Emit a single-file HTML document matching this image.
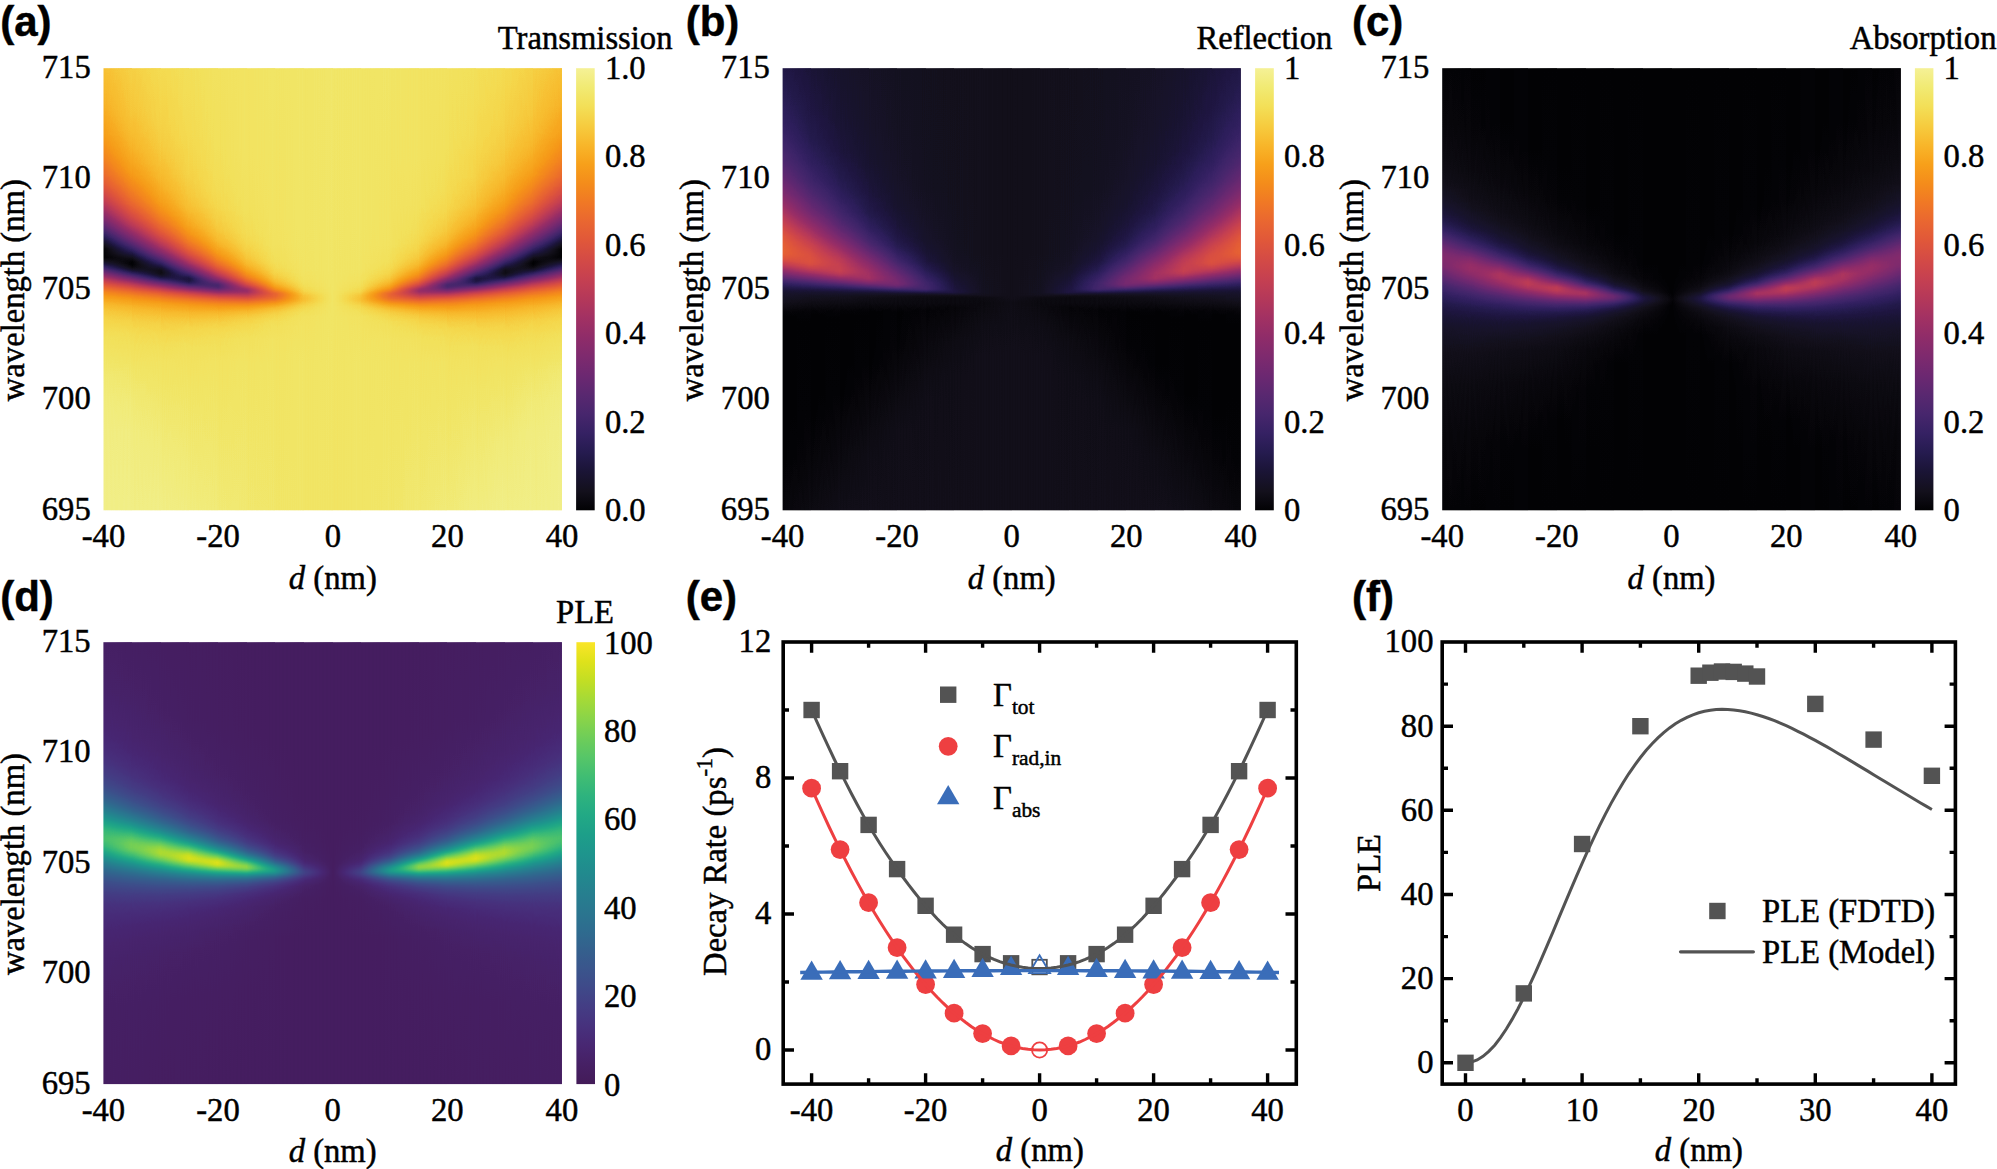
<!DOCTYPE html><html><head><meta charset="utf-8"><title>Figure</title><style>html,body{margin:0;padding:0;background:#fff}svg{display:block}text{font-family:"Liberation Serif",serif;font-size:32px;fill:#000;stroke:#000;stroke-width:.45px}.b{font-family:"Liberation Sans",sans-serif;font-weight:bold;font-size:42px}.i{font-style:italic}.s{font-size:21px}</style></head><body><svg width="1997" height="1169" viewBox="0 0 1997 1169"><defs><linearGradient id="hg" x1="0" y1="0" x2="1" y2="0"><stop offset="0" stop-color="#fff" stop-opacity="0"/><stop offset="1" stop-color="#fff" stop-opacity="1"/></linearGradient>
<mask id="hm" maskContentUnits="objectBoundingBox"><rect x="0" y="0" width="1" height="1" fill="url(#hg)"/></mask>
<filter id="inf" color-interpolation-filters="sRGB" x="0" y="0" width="1" height="1"><feComponentTransfer><feFuncR type="table" tableValues=".008 .044 .071 .089 .099 .119 .141 .173 .203 .239 .271 .305 .344 .377 .416 .446 .482 .512 .549 .579 .614 .654 .687 .726 .756 .789 .814 .844 .866 .885 .904 .918 .932 .941 .953 .96 .966 .968 .97 .971 .97 .965 .96 .952 .948 .946 .947 .961"/><feFuncG type="table" tableValues=".008 .037 .062 .075 .078 .086 .104 .117 .127 .141 .149 .151 .156 .156 .158 .16 .165 .167 .171 .175 .185 .199 .211 .227 .241 .261 .278 .303 .325 .349 .382 .41 .447 .479 .52 .555 .599 .636 .674 .721 .76 .807 .847 .88 .899 .921 .935 .945"/><feFuncB type="table" tableValues=".016 .06 .102 .153 .198 .255 .302 .353 .384 .41 .424 .433 .44 .443 .443 .44 .434 .427 .416 .406 .395 .379 .364 .344 .327 .305 .285 .261 .24 .222 .201 .184 .161 .142 .12 .105 .095 .108 .134 .17 .205 .255 .301 .352 .395 .466 .531 .588"/></feComponentTransfer></filter>
<filter id="vir" color-interpolation-filters="sRGB" x="0" y="0" width="1" height="1"><feComponentTransfer><feFuncR type="table" tableValues=".263 .269 .273 .278 .281 .282 .279 .273 .267 .258 .249 .24 .228 .218 .206 .197 .186 .177 .167 .16 .152 .143 .135 .127 .121 .116 .114 .118 .126 .14 .164 .19 .225 .259 .304 .344 .395 .44 .487 .546 .596 .657 .709 .772 .824 .884 .933 .98"/><feFuncG type="table" tableValues=".106 .112 .122 .137 .147 .166 .187 .213 .234 .259 .28 .302 .327 .348 .372 .392 .414 .433 .455 .474 .492 .514 .532 .554 .572 .594 .612 .634 .652 .669 .691 .708 .728 .744 .763 .778 .795 .808 .821 .834 .844 .855 .863 .872 .879 .886 .892 .898"/><feFuncB type="table" tableValues=".345 .367 .388 .418 .444 .47 .487 .504 .516 .526 .534 .541 .547 .551 .554 .556 .558 .56 .561 .561 .561 .56 .559 .557 .554 .549 .543 .535 .526 .515 .501 .486 .467 .448 .424 .401 .372 .345 .316 .279 .247 .207 .174 .137 .114 .109 .125 .157"/></feComponentTransfer></filter>
<linearGradient id="ha0" x1="0" y1="0" x2="0" y2="1"><stop offset="0" stop-color="#d9d9d9"/><stop offset=".0825" stop-color="#d1d1d1"/><stop offset=".1167" stop-color="#cccccc"/><stop offset=".1475" stop-color="#c7c7c7"/><stop offset=".1758" stop-color="#c0c0c0"/><stop offset=".2008" stop-color="#b9b9b9"/><stop offset=".2242" stop-color="#b0b0b0"/><stop offset=".245" stop-color="#a7a7a7"/><stop offset=".265" stop-color="#9c9c9c"/><stop offset=".2833" stop-color="#8f8f8f"/><stop offset=".3017" stop-color="#818181"/><stop offset=".3192" stop-color="#707070"/><stop offset=".3333" stop-color="#616161"/><stop offset=".3475" stop-color="#505050"/><stop offset=".3633" stop-color="#3c3c3c"/><stop offset=".3933" stop-color="#121212"/><stop offset=".4008" stop-color="#090909"/><stop offset=".4075" stop-color="#020202"/><stop offset=".41" stop-color="#000000"/><stop offset=".4267" stop-color="#000000"/><stop offset=".4292" stop-color="#020202"/><stop offset=".4342" stop-color="#0a0a0a"/><stop offset=".4383" stop-color="#121212"/><stop offset=".4433" stop-color="#1d1d1d"/><stop offset=".4517" stop-color="#333333"/><stop offset=".47" stop-color="#6a6a6a"/><stop offset=".4783" stop-color="#818181"/><stop offset=".4875" stop-color="#979797"/><stop offset=".4967" stop-color="#aaaaaa"/><stop offset=".5075" stop-color="#bcbcbc"/><stop offset=".5192" stop-color="#c9c9c9"/><stop offset=".5317" stop-color="#d3d3d3"/><stop offset=".5467" stop-color="#dcdcdc"/><stop offset=".5692" stop-color="#e3e3e3"/><stop offset=".6" stop-color="#e9e9e9"/><stop offset=".6417" stop-color="#eeeeee"/><stop offset=".6925" stop-color="#f3f3f3"/><stop offset=".7475" stop-color="#f6f6f6"/><stop offset=".8117" stop-color="#f8f8f8"/><stop offset="1" stop-color="#fafafa"/></linearGradient><linearGradient id="ha1" x1="0" y1="0" x2="0" y2="1"><stop offset="0" stop-color="#e0e0e0"/><stop offset=".1042" stop-color="#dbdbdb"/><stop offset=".145" stop-color="#d7d7d7"/><stop offset=".1808" stop-color="#d2d2d2"/><stop offset=".2125" stop-color="#cccccc"/><stop offset=".24" stop-color="#c5c5c5"/><stop offset=".2642" stop-color="#bcbcbc"/><stop offset=".2867" stop-color="#b2b2b2"/><stop offset=".3058" stop-color="#a8a8a8"/><stop offset=".3233" stop-color="#9b9b9b"/><stop offset=".34" stop-color="#8d8d8d"/><stop offset=".3558" stop-color="#7c7c7c"/><stop offset=".3708" stop-color="#696969"/><stop offset=".3858" stop-color="#545454"/><stop offset=".3975" stop-color="#414141"/><stop offset=".4208" stop-color="#191919"/><stop offset=".4292" stop-color="#0b0b0b"/><stop offset=".4367" stop-color="#020202"/><stop offset=".44" stop-color="#000000"/><stop offset=".4425" stop-color="#000000"/><stop offset=".4458" stop-color="#020202"/><stop offset=".45" stop-color="#060606"/><stop offset=".4542" stop-color="#0e0e0e"/><stop offset=".4583" stop-color="#181818"/><stop offset=".4658" stop-color="#2f2f2f"/><stop offset=".4825" stop-color="#6a6a6a"/><stop offset=".49" stop-color="#838383"/><stop offset=".4983" stop-color="#9a9a9a"/><stop offset=".5058" stop-color="#ababab"/><stop offset=".515" stop-color="#bbbbbb"/><stop offset=".525" stop-color="#c7c7c7"/><stop offset=".5367" stop-color="#d1d1d1"/><stop offset=".5508" stop-color="#d9d9d9"/><stop offset=".5725" stop-color="#e1e1e1"/><stop offset=".6017" stop-color="#e7e7e7"/><stop offset=".6383" stop-color="#ebebeb"/><stop offset=".6875" stop-color="#f0f0f0"/><stop offset=".7542" stop-color="#f4f4f4"/><stop offset=".825" stop-color="#f7f7f7"/><stop offset="1" stop-color="#f9f9f9"/></linearGradient><linearGradient id="ha2" x1="0" y1="0" x2="0" y2="1"><stop offset="0" stop-color="#e6e6e6"/><stop offset=".1267" stop-color="#e1e1e1"/><stop offset=".1742" stop-color="#dedede"/><stop offset=".2133" stop-color="#dadada"/><stop offset=".2467" stop-color="#d5d5d5"/><stop offset=".2758" stop-color="#cfcfcf"/><stop offset=".3008" stop-color="#c8c8c8"/><stop offset=".3233" stop-color="#bfbfbf"/><stop offset=".3425" stop-color="#b4b4b4"/><stop offset=".36" stop-color="#a7a7a7"/><stop offset=".3758" stop-color="#989898"/><stop offset=".3908" stop-color="#868686"/><stop offset=".4042" stop-color="#737373"/><stop offset=".4175" stop-color="#5c5c5c"/><stop offset=".4283" stop-color="#464646"/><stop offset=".4467" stop-color="#1e1e1e"/><stop offset=".4533" stop-color="#101010"/><stop offset=".4575" stop-color="#0a0a0a"/><stop offset=".4617" stop-color="#080808"/><stop offset=".4642" stop-color="#090909"/><stop offset=".4675" stop-color="#0d0d0d"/><stop offset=".47" stop-color="#121212"/><stop offset=".4733" stop-color="#1b1b1b"/><stop offset=".4767" stop-color="#262626"/><stop offset=".48" stop-color="#333333"/><stop offset=".4933" stop-color="#6b6b6b"/><stop offset=".5" stop-color="#848484"/><stop offset=".5067" stop-color="#9a9a9a"/><stop offset=".51" stop-color="#a3a3a3"/><stop offset=".5142" stop-color="#acacac"/><stop offset=".5183" stop-color="#b4b4b4"/><stop offset=".5225" stop-color="#bbbbbb"/><stop offset=".5325" stop-color="#c8c8c8"/><stop offset=".5442" stop-color="#d1d1d1"/><stop offset=".5583" stop-color="#d9d9d9"/><stop offset=".5775" stop-color="#e0e0e0"/><stop offset=".6" stop-color="#e5e5e5"/><stop offset=".6283" stop-color="#e9e9e9"/><stop offset=".665" stop-color="#ededed"/><stop offset=".8483" stop-color="#f5f5f5"/><stop offset="1" stop-color="#f9f9f9"/></linearGradient><linearGradient id="ha3" x1="0" y1="0" x2="0" y2="1"><stop offset="0" stop-color="#e9e9e9"/><stop offset=".15" stop-color="#e6e6e6"/><stop offset=".2458" stop-color="#e1e1e1"/><stop offset=".2817" stop-color="#dddddd"/><stop offset=".3108" stop-color="#d9d9d9"/><stop offset=".3358" stop-color="#d2d2d2"/><stop offset=".3567" stop-color="#cbcbcb"/><stop offset=".3758" stop-color="#c1c1c1"/><stop offset=".3925" stop-color="#b5b5b5"/><stop offset=".4075" stop-color="#a6a6a6"/><stop offset=".4208" stop-color="#959595"/><stop offset=".4317" stop-color="#838383"/><stop offset=".4425" stop-color="#6e6e6e"/><stop offset=".4533" stop-color="#545454"/><stop offset=".4725" stop-color="#202020"/><stop offset=".4758" stop-color="#1a1a1a"/><stop offset=".4783" stop-color="#191919"/><stop offset=".48" stop-color="#1a1a1a"/><stop offset=".4825" stop-color="#1d1d1d"/><stop offset=".4842" stop-color="#202020"/><stop offset=".4867" stop-color="#282828"/><stop offset=".4892" stop-color="#313131"/><stop offset=".4917" stop-color="#3b3b3b"/><stop offset=".5025" stop-color="#6e6e6e"/><stop offset=".5083" stop-color="#878787"/><stop offset=".5117" stop-color="#939393"/><stop offset=".515" stop-color="#9d9d9d"/><stop offset=".5217" stop-color="#aeaeae"/><stop offset=".5258" stop-color="#b6b6b6"/><stop offset=".53" stop-color="#bdbdbd"/><stop offset=".535" stop-color="#c4c4c4"/><stop offset=".5408" stop-color="#cacaca"/><stop offset=".5533" stop-color="#d4d4d4"/><stop offset=".5683" stop-color="#dcdcdc"/><stop offset=".585" stop-color="#e2e2e2"/><stop offset=".605" stop-color="#e6e6e6"/><stop offset=".63" stop-color="#eaeaea"/><stop offset=".6617" stop-color="#ececec"/><stop offset=".725" stop-color="#efefef"/><stop offset="1" stop-color="#f7f7f7"/></linearGradient><linearGradient id="ha4" x1="0" y1="0" x2="0" y2="1"><stop offset="0" stop-color="#ececec"/><stop offset=".175" stop-color="#eaeaea"/><stop offset=".2775" stop-color="#e7e7e7"/><stop offset=".3142" stop-color="#e4e4e4"/><stop offset=".3433" stop-color="#e0e0e0"/><stop offset=".3675" stop-color="#dcdcdc"/><stop offset=".3875" stop-color="#d6d6d6"/><stop offset=".405" stop-color="#cecece"/><stop offset=".42" stop-color="#c4c4c4"/><stop offset=".4333" stop-color="#b8b8b8"/><stop offset=".4458" stop-color="#a8a8a8"/><stop offset=".455" stop-color="#989898"/><stop offset=".4642" stop-color="#848484"/><stop offset=".4692" stop-color="#787878"/><stop offset=".4742" stop-color="#6a6a6a"/><stop offset=".4875" stop-color="#3e3e3e"/><stop offset=".49" stop-color="#393939"/><stop offset=".4925" stop-color="#383838"/><stop offset=".495" stop-color="#3a3a3a"/><stop offset=".4967" stop-color="#3e3e3e"/><stop offset=".4983" stop-color="#434343"/><stop offset=".5017" stop-color="#505050"/><stop offset=".5117" stop-color="#7d7d7d"/><stop offset=".5158" stop-color="#8d8d8d"/><stop offset=".5192" stop-color="#999999"/><stop offset=".5225" stop-color="#a3a3a3"/><stop offset=".5258" stop-color="#ababab"/><stop offset=".53" stop-color="#b5b5b5"/><stop offset=".5342" stop-color="#bdbdbd"/><stop offset=".5392" stop-color="#c4c4c4"/><stop offset=".5492" stop-color="#d0d0d0"/><stop offset=".5608" stop-color="#d9d9d9"/><stop offset=".5758" stop-color="#e0e0e0"/><stop offset=".5917" stop-color="#e5e5e5"/><stop offset=".6108" stop-color="#e8e8e8"/><stop offset=".665" stop-color="#ededed"/><stop offset="1" stop-color="#f4f4f4"/></linearGradient><linearGradient id="ha5" x1="0" y1="0" x2="0" y2="1"><stop offset="0" stop-color="#ededed"/><stop offset=".2" stop-color="#ededed"/><stop offset=".3083" stop-color="#ebebeb"/><stop offset=".3733" stop-color="#e7e7e7"/><stop offset=".3958" stop-color="#e4e4e4"/><stop offset=".4142" stop-color="#e0e0e0"/><stop offset=".4308" stop-color="#dbdbdb"/><stop offset=".4442" stop-color="#d4d4d4"/><stop offset=".4558" stop-color="#cbcbcb"/><stop offset=".4667" stop-color="#bfbfbf"/><stop offset=".4742" stop-color="#b4b4b4"/><stop offset=".4817" stop-color="#a5a5a5"/><stop offset=".4858" stop-color="#9a9a9a"/><stop offset=".4892" stop-color="#919191"/><stop offset=".4992" stop-color="#6f6f6f"/><stop offset=".5008" stop-color="#6c6c6c"/><stop offset=".5033" stop-color="#6a6a6a"/><stop offset=".5058" stop-color="#6c6c6c"/><stop offset=".5083" stop-color="#717171"/><stop offset=".5233" stop-color="#9f9f9f"/><stop offset=".5283" stop-color="#aeaeae"/><stop offset=".5342" stop-color="#bcbcbc"/><stop offset=".5408" stop-color="#c8c8c8"/><stop offset=".5483" stop-color="#d2d2d2"/><stop offset=".5575" stop-color="#dbdbdb"/><stop offset=".5683" stop-color="#e1e1e1"/><stop offset=".5808" stop-color="#e5e5e5"/><stop offset=".5958" stop-color="#e8e8e8"/><stop offset=".6142" stop-color="#ebebeb"/><stop offset=".6683" stop-color="#eeeeee"/><stop offset="1" stop-color="#f2f2f2"/></linearGradient><linearGradient id="ha6" x1="0" y1="0" x2="0" y2="1"><stop offset="0" stop-color="#efefef"/><stop offset=".335" stop-color="#ededed"/><stop offset=".3983" stop-color="#ececec"/><stop offset=".4367" stop-color="#e9e9e9"/><stop offset=".4517" stop-color="#e6e6e6"/><stop offset=".4633" stop-color="#e2e2e2"/><stop offset=".4733" stop-color="#dddddd"/><stop offset=".4817" stop-color="#d7d7d7"/><stop offset=".4883" stop-color="#d0d0d0"/><stop offset=".4942" stop-color="#c8c8c8"/><stop offset=".5" stop-color="#bdbdbd"/><stop offset=".5083" stop-color="#a8a8a8"/><stop offset=".51" stop-color="#a6a6a6"/><stop offset=".5125" stop-color="#a5a5a5"/><stop offset=".5167" stop-color="#a7a7a7"/><stop offset=".5208" stop-color="#acacac"/><stop offset=".5242" stop-color="#b2b2b2"/><stop offset=".5325" stop-color="#c4c4c4"/><stop offset=".5367" stop-color="#cccccc"/><stop offset=".5417" stop-color="#d4d4d4"/><stop offset=".5475" stop-color="#dbdbdb"/><stop offset=".5542" stop-color="#e0e0e0"/><stop offset=".5625" stop-color="#e4e4e4"/><stop offset=".5725" stop-color="#e8e8e8"/><stop offset=".5842" stop-color="#eaeaea"/><stop offset=".6167" stop-color="#ededed"/><stop offset=".6708" stop-color="#eeeeee"/><stop offset="1" stop-color="#f0f0f0"/></linearGradient><linearGradient id="ha7" x1="0" y1="0" x2="0" y2="1"><stop offset="0" stop-color="#efefef"/><stop offset=".3583" stop-color="#efefef"/><stop offset=".4542" stop-color="#eeeeee"/><stop offset=".4775" stop-color="#ececec"/><stop offset=".4933" stop-color="#e8e8e8"/><stop offset=".5042" stop-color="#e3e3e3"/><stop offset=".5142" stop-color="#dadada"/><stop offset=".5208" stop-color="#d8d8d8"/><stop offset=".5258" stop-color="#d9d9d9"/><stop offset=".5383" stop-color="#e3e3e3"/><stop offset=".5483" stop-color="#e8e8e8"/><stop offset=".5625" stop-color="#ececec"/><stop offset=".5833" stop-color="#ededed"/><stop offset=".6675" stop-color="#efefef"/><stop offset="1" stop-color="#efefef"/></linearGradient><linearGradient id="ha8" x1="0" y1="0" x2="0" y2="1"><stop offset="0" stop-color="#f0f0f0"/><stop offset="1" stop-color="#eeeeee"/></linearGradient><linearGradient id="ha9" x1="0" y1="0" x2="0" y2="1"><stop offset="0" stop-color="#efefef"/><stop offset=".3583" stop-color="#efefef"/><stop offset=".4542" stop-color="#eeeeee"/><stop offset=".4775" stop-color="#ececec"/><stop offset=".4933" stop-color="#e8e8e8"/><stop offset=".5042" stop-color="#e3e3e3"/><stop offset=".5142" stop-color="#dadada"/><stop offset=".5208" stop-color="#d8d8d8"/><stop offset=".5258" stop-color="#d9d9d9"/><stop offset=".5383" stop-color="#e3e3e3"/><stop offset=".5483" stop-color="#e8e8e8"/><stop offset=".5625" stop-color="#ececec"/><stop offset=".5833" stop-color="#ededed"/><stop offset=".6675" stop-color="#efefef"/><stop offset="1" stop-color="#efefef"/></linearGradient><linearGradient id="ha10" x1="0" y1="0" x2="0" y2="1"><stop offset="0" stop-color="#efefef"/><stop offset=".335" stop-color="#ededed"/><stop offset=".3983" stop-color="#ececec"/><stop offset=".4367" stop-color="#e9e9e9"/><stop offset=".4517" stop-color="#e6e6e6"/><stop offset=".4633" stop-color="#e2e2e2"/><stop offset=".4733" stop-color="#dddddd"/><stop offset=".4817" stop-color="#d7d7d7"/><stop offset=".4883" stop-color="#d0d0d0"/><stop offset=".4942" stop-color="#c8c8c8"/><stop offset=".5" stop-color="#bdbdbd"/><stop offset=".5083" stop-color="#a8a8a8"/><stop offset=".51" stop-color="#a6a6a6"/><stop offset=".5125" stop-color="#a5a5a5"/><stop offset=".5167" stop-color="#a7a7a7"/><stop offset=".5208" stop-color="#acacac"/><stop offset=".5242" stop-color="#b2b2b2"/><stop offset=".5325" stop-color="#c4c4c4"/><stop offset=".5367" stop-color="#cccccc"/><stop offset=".5417" stop-color="#d4d4d4"/><stop offset=".5475" stop-color="#dbdbdb"/><stop offset=".5542" stop-color="#e0e0e0"/><stop offset=".5625" stop-color="#e4e4e4"/><stop offset=".5725" stop-color="#e8e8e8"/><stop offset=".5842" stop-color="#eaeaea"/><stop offset=".6167" stop-color="#ededed"/><stop offset=".6708" stop-color="#eeeeee"/><stop offset="1" stop-color="#f0f0f0"/></linearGradient><linearGradient id="ha11" x1="0" y1="0" x2="0" y2="1"><stop offset="0" stop-color="#ededed"/><stop offset=".2" stop-color="#ededed"/><stop offset=".3083" stop-color="#ebebeb"/><stop offset=".3733" stop-color="#e7e7e7"/><stop offset=".3958" stop-color="#e4e4e4"/><stop offset=".4142" stop-color="#e0e0e0"/><stop offset=".4308" stop-color="#dbdbdb"/><stop offset=".4442" stop-color="#d4d4d4"/><stop offset=".4558" stop-color="#cbcbcb"/><stop offset=".4667" stop-color="#bfbfbf"/><stop offset=".4742" stop-color="#b4b4b4"/><stop offset=".4817" stop-color="#a5a5a5"/><stop offset=".4858" stop-color="#9a9a9a"/><stop offset=".4892" stop-color="#919191"/><stop offset=".4992" stop-color="#6f6f6f"/><stop offset=".5008" stop-color="#6c6c6c"/><stop offset=".5033" stop-color="#6a6a6a"/><stop offset=".5058" stop-color="#6c6c6c"/><stop offset=".5083" stop-color="#717171"/><stop offset=".5233" stop-color="#9f9f9f"/><stop offset=".5283" stop-color="#aeaeae"/><stop offset=".5342" stop-color="#bcbcbc"/><stop offset=".5408" stop-color="#c8c8c8"/><stop offset=".5483" stop-color="#d2d2d2"/><stop offset=".5575" stop-color="#dbdbdb"/><stop offset=".5683" stop-color="#e1e1e1"/><stop offset=".5808" stop-color="#e5e5e5"/><stop offset=".5958" stop-color="#e8e8e8"/><stop offset=".6142" stop-color="#ebebeb"/><stop offset=".6683" stop-color="#eeeeee"/><stop offset="1" stop-color="#f2f2f2"/></linearGradient><linearGradient id="ha12" x1="0" y1="0" x2="0" y2="1"><stop offset="0" stop-color="#ececec"/><stop offset=".175" stop-color="#eaeaea"/><stop offset=".2775" stop-color="#e7e7e7"/><stop offset=".3142" stop-color="#e4e4e4"/><stop offset=".3433" stop-color="#e0e0e0"/><stop offset=".3675" stop-color="#dcdcdc"/><stop offset=".3875" stop-color="#d6d6d6"/><stop offset=".405" stop-color="#cecece"/><stop offset=".42" stop-color="#c4c4c4"/><stop offset=".4333" stop-color="#b8b8b8"/><stop offset=".4458" stop-color="#a8a8a8"/><stop offset=".455" stop-color="#989898"/><stop offset=".4642" stop-color="#848484"/><stop offset=".4692" stop-color="#787878"/><stop offset=".4742" stop-color="#6a6a6a"/><stop offset=".4875" stop-color="#3e3e3e"/><stop offset=".49" stop-color="#393939"/><stop offset=".4925" stop-color="#383838"/><stop offset=".495" stop-color="#3a3a3a"/><stop offset=".4967" stop-color="#3e3e3e"/><stop offset=".4983" stop-color="#434343"/><stop offset=".5017" stop-color="#505050"/><stop offset=".5117" stop-color="#7d7d7d"/><stop offset=".5158" stop-color="#8d8d8d"/><stop offset=".5192" stop-color="#999999"/><stop offset=".5225" stop-color="#a3a3a3"/><stop offset=".5258" stop-color="#ababab"/><stop offset=".53" stop-color="#b5b5b5"/><stop offset=".5342" stop-color="#bdbdbd"/><stop offset=".5392" stop-color="#c4c4c4"/><stop offset=".5492" stop-color="#d0d0d0"/><stop offset=".5608" stop-color="#d9d9d9"/><stop offset=".5758" stop-color="#e0e0e0"/><stop offset=".5917" stop-color="#e5e5e5"/><stop offset=".6108" stop-color="#e8e8e8"/><stop offset=".665" stop-color="#ededed"/><stop offset="1" stop-color="#f4f4f4"/></linearGradient><linearGradient id="ha13" x1="0" y1="0" x2="0" y2="1"><stop offset="0" stop-color="#e9e9e9"/><stop offset=".15" stop-color="#e6e6e6"/><stop offset=".2458" stop-color="#e1e1e1"/><stop offset=".2817" stop-color="#dddddd"/><stop offset=".3108" stop-color="#d9d9d9"/><stop offset=".3358" stop-color="#d2d2d2"/><stop offset=".3567" stop-color="#cbcbcb"/><stop offset=".3758" stop-color="#c1c1c1"/><stop offset=".3925" stop-color="#b5b5b5"/><stop offset=".4075" stop-color="#a6a6a6"/><stop offset=".4208" stop-color="#959595"/><stop offset=".4317" stop-color="#838383"/><stop offset=".4425" stop-color="#6e6e6e"/><stop offset=".4533" stop-color="#545454"/><stop offset=".4725" stop-color="#202020"/><stop offset=".4758" stop-color="#1a1a1a"/><stop offset=".4783" stop-color="#191919"/><stop offset=".48" stop-color="#1a1a1a"/><stop offset=".4825" stop-color="#1d1d1d"/><stop offset=".4842" stop-color="#202020"/><stop offset=".4867" stop-color="#282828"/><stop offset=".4892" stop-color="#313131"/><stop offset=".4917" stop-color="#3b3b3b"/><stop offset=".5025" stop-color="#6e6e6e"/><stop offset=".5083" stop-color="#878787"/><stop offset=".5117" stop-color="#939393"/><stop offset=".515" stop-color="#9d9d9d"/><stop offset=".5217" stop-color="#aeaeae"/><stop offset=".5258" stop-color="#b6b6b6"/><stop offset=".53" stop-color="#bdbdbd"/><stop offset=".535" stop-color="#c4c4c4"/><stop offset=".5408" stop-color="#cacaca"/><stop offset=".5533" stop-color="#d4d4d4"/><stop offset=".5683" stop-color="#dcdcdc"/><stop offset=".585" stop-color="#e2e2e2"/><stop offset=".605" stop-color="#e6e6e6"/><stop offset=".63" stop-color="#eaeaea"/><stop offset=".6617" stop-color="#ececec"/><stop offset=".725" stop-color="#efefef"/><stop offset="1" stop-color="#f7f7f7"/></linearGradient><linearGradient id="ha14" x1="0" y1="0" x2="0" y2="1"><stop offset="0" stop-color="#e6e6e6"/><stop offset=".1267" stop-color="#e1e1e1"/><stop offset=".1742" stop-color="#dedede"/><stop offset=".2133" stop-color="#dadada"/><stop offset=".2467" stop-color="#d5d5d5"/><stop offset=".2758" stop-color="#cfcfcf"/><stop offset=".3008" stop-color="#c8c8c8"/><stop offset=".3233" stop-color="#bfbfbf"/><stop offset=".3425" stop-color="#b4b4b4"/><stop offset=".36" stop-color="#a7a7a7"/><stop offset=".3758" stop-color="#989898"/><stop offset=".3908" stop-color="#868686"/><stop offset=".4042" stop-color="#737373"/><stop offset=".4175" stop-color="#5c5c5c"/><stop offset=".4283" stop-color="#464646"/><stop offset=".4467" stop-color="#1e1e1e"/><stop offset=".4533" stop-color="#101010"/><stop offset=".4575" stop-color="#0a0a0a"/><stop offset=".4617" stop-color="#080808"/><stop offset=".4642" stop-color="#090909"/><stop offset=".4675" stop-color="#0d0d0d"/><stop offset=".47" stop-color="#121212"/><stop offset=".4733" stop-color="#1b1b1b"/><stop offset=".4767" stop-color="#262626"/><stop offset=".48" stop-color="#333333"/><stop offset=".4933" stop-color="#6b6b6b"/><stop offset=".5" stop-color="#848484"/><stop offset=".5067" stop-color="#9a9a9a"/><stop offset=".51" stop-color="#a3a3a3"/><stop offset=".5142" stop-color="#acacac"/><stop offset=".5183" stop-color="#b4b4b4"/><stop offset=".5225" stop-color="#bbbbbb"/><stop offset=".5325" stop-color="#c8c8c8"/><stop offset=".5442" stop-color="#d1d1d1"/><stop offset=".5583" stop-color="#d9d9d9"/><stop offset=".5775" stop-color="#e0e0e0"/><stop offset=".6" stop-color="#e5e5e5"/><stop offset=".6283" stop-color="#e9e9e9"/><stop offset=".665" stop-color="#ededed"/><stop offset=".8483" stop-color="#f5f5f5"/><stop offset="1" stop-color="#f9f9f9"/></linearGradient><linearGradient id="ha15" x1="0" y1="0" x2="0" y2="1"><stop offset="0" stop-color="#e0e0e0"/><stop offset=".1042" stop-color="#dbdbdb"/><stop offset=".145" stop-color="#d7d7d7"/><stop offset=".1808" stop-color="#d2d2d2"/><stop offset=".2125" stop-color="#cccccc"/><stop offset=".24" stop-color="#c5c5c5"/><stop offset=".2642" stop-color="#bcbcbc"/><stop offset=".2867" stop-color="#b2b2b2"/><stop offset=".3058" stop-color="#a8a8a8"/><stop offset=".3233" stop-color="#9b9b9b"/><stop offset=".34" stop-color="#8d8d8d"/><stop offset=".3558" stop-color="#7c7c7c"/><stop offset=".3708" stop-color="#696969"/><stop offset=".3858" stop-color="#545454"/><stop offset=".3975" stop-color="#414141"/><stop offset=".4208" stop-color="#191919"/><stop offset=".4292" stop-color="#0b0b0b"/><stop offset=".4367" stop-color="#020202"/><stop offset=".44" stop-color="#000000"/><stop offset=".4425" stop-color="#000000"/><stop offset=".4458" stop-color="#020202"/><stop offset=".45" stop-color="#060606"/><stop offset=".4542" stop-color="#0e0e0e"/><stop offset=".4583" stop-color="#181818"/><stop offset=".4658" stop-color="#2f2f2f"/><stop offset=".4825" stop-color="#6a6a6a"/><stop offset=".49" stop-color="#838383"/><stop offset=".4983" stop-color="#9a9a9a"/><stop offset=".5058" stop-color="#ababab"/><stop offset=".515" stop-color="#bbbbbb"/><stop offset=".525" stop-color="#c7c7c7"/><stop offset=".5367" stop-color="#d1d1d1"/><stop offset=".5508" stop-color="#d9d9d9"/><stop offset=".5725" stop-color="#e1e1e1"/><stop offset=".6017" stop-color="#e7e7e7"/><stop offset=".6383" stop-color="#ebebeb"/><stop offset=".6875" stop-color="#f0f0f0"/><stop offset=".7542" stop-color="#f4f4f4"/><stop offset=".825" stop-color="#f7f7f7"/><stop offset="1" stop-color="#f9f9f9"/></linearGradient><linearGradient id="ha16" x1="0" y1="0" x2="0" y2="1"><stop offset="0" stop-color="#d9d9d9"/><stop offset=".0825" stop-color="#d1d1d1"/><stop offset=".1167" stop-color="#cccccc"/><stop offset=".1475" stop-color="#c7c7c7"/><stop offset=".1758" stop-color="#c0c0c0"/><stop offset=".2008" stop-color="#b9b9b9"/><stop offset=".2242" stop-color="#b0b0b0"/><stop offset=".245" stop-color="#a7a7a7"/><stop offset=".265" stop-color="#9c9c9c"/><stop offset=".2833" stop-color="#8f8f8f"/><stop offset=".3017" stop-color="#818181"/><stop offset=".3192" stop-color="#707070"/><stop offset=".3333" stop-color="#616161"/><stop offset=".3475" stop-color="#505050"/><stop offset=".3633" stop-color="#3c3c3c"/><stop offset=".3933" stop-color="#121212"/><stop offset=".4008" stop-color="#090909"/><stop offset=".4075" stop-color="#020202"/><stop offset=".41" stop-color="#000000"/><stop offset=".4267" stop-color="#000000"/><stop offset=".4292" stop-color="#020202"/><stop offset=".4342" stop-color="#0a0a0a"/><stop offset=".4383" stop-color="#121212"/><stop offset=".4433" stop-color="#1d1d1d"/><stop offset=".4517" stop-color="#333333"/><stop offset=".47" stop-color="#6a6a6a"/><stop offset=".4783" stop-color="#818181"/><stop offset=".4875" stop-color="#979797"/><stop offset=".4967" stop-color="#aaaaaa"/><stop offset=".5075" stop-color="#bcbcbc"/><stop offset=".5192" stop-color="#c9c9c9"/><stop offset=".5317" stop-color="#d3d3d3"/><stop offset=".5467" stop-color="#dcdcdc"/><stop offset=".5692" stop-color="#e3e3e3"/><stop offset=".6" stop-color="#e9e9e9"/><stop offset=".6417" stop-color="#eeeeee"/><stop offset=".6925" stop-color="#f3f3f3"/><stop offset=".7475" stop-color="#f6f6f6"/><stop offset=".8117" stop-color="#f8f8f8"/><stop offset="1" stop-color="#fafafa"/></linearGradient>
<linearGradient id="hb0" x1="0" y1="0" x2="0" y2="1"><stop offset="0" stop-color="#1e1e1e"/><stop offset=".07" stop-color="#242424"/><stop offset=".1283" stop-color="#2b2b2b"/><stop offset=".1775" stop-color="#343434"/><stop offset=".2192" stop-color="#3f3f3f"/><stop offset=".2533" stop-color="#4c4c4c"/><stop offset=".2858" stop-color="#5c5c5c"/><stop offset=".3133" stop-color="#6e6e6e"/><stop offset=".3617" stop-color="#909090"/><stop offset=".3792" stop-color="#9b9b9b"/><stop offset=".3967" stop-color="#a2a2a2"/><stop offset=".4133" stop-color="#a4a4a4"/><stop offset=".4192" stop-color="#a3a3a3"/><stop offset=".425" stop-color="#9f9f9f"/><stop offset=".4308" stop-color="#999999"/><stop offset=".4367" stop-color="#909090"/><stop offset=".4475" stop-color="#7c7c7c"/><stop offset=".4692" stop-color="#4d4d4d"/><stop offset=".4783" stop-color="#3a3a3a"/><stop offset=".4875" stop-color="#2a2a2a"/><stop offset=".4967" stop-color="#1e1e1e"/><stop offset=".5042" stop-color="#161616"/><stop offset=".5108" stop-color="#121212"/><stop offset=".5292" stop-color="#0c0c0c"/><stop offset=".55" stop-color="#030303"/><stop offset=".5608" stop-color="#010101"/><stop offset=".58" stop-color="#000000"/><stop offset=".7458" stop-color="#000000"/><stop offset=".8908" stop-color="#010101"/><stop offset="1" stop-color="#040404"/></linearGradient><linearGradient id="hb1" x1="0" y1="0" x2="0" y2="1"><stop offset="0" stop-color="#181818"/><stop offset=".0883" stop-color="#1c1c1c"/><stop offset=".1575" stop-color="#212121"/><stop offset=".2117" stop-color="#292929"/><stop offset=".2567" stop-color="#333333"/><stop offset=".2875" stop-color="#3e3e3e"/><stop offset=".3158" stop-color="#4b4b4b"/><stop offset=".3308" stop-color="#545454"/><stop offset=".3458" stop-color="#5f5f5f"/><stop offset=".3908" stop-color="#828282"/><stop offset=".405" stop-color="#8c8c8c"/><stop offset=".4208" stop-color="#949494"/><stop offset=".4283" stop-color="#969696"/><stop offset=".4358" stop-color="#979797"/><stop offset=".44" stop-color="#969696"/><stop offset=".445" stop-color="#929292"/><stop offset=".4492" stop-color="#8c8c8c"/><stop offset=".4542" stop-color="#848484"/><stop offset=".4625" stop-color="#727272"/><stop offset=".4792" stop-color="#474747"/><stop offset=".4867" stop-color="#353535"/><stop offset=".4942" stop-color="#262626"/><stop offset=".5017" stop-color="#1a1a1a"/><stop offset=".5075" stop-color="#141414"/><stop offset=".5142" stop-color="#0f0f0f"/><stop offset=".5492" stop-color="#020202"/><stop offset=".5592" stop-color="#010101"/><stop offset=".5758" stop-color="#000000"/><stop offset=".7825" stop-color="#010101"/><stop offset=".8775" stop-color="#030303"/><stop offset="1" stop-color="#070707"/></linearGradient><linearGradient id="hb2" x1="0" y1="0" x2="0" y2="1"><stop offset="0" stop-color="#131313"/><stop offset=".1083" stop-color="#161616"/><stop offset=".1875" stop-color="#1a1a1a"/><stop offset=".2467" stop-color="#212121"/><stop offset=".2717" stop-color="#252525"/><stop offset=".2933" stop-color="#2a2a2a"/><stop offset=".3258" stop-color="#343434"/><stop offset=".34" stop-color="#3a3a3a"/><stop offset=".3542" stop-color="#414141"/><stop offset=".3683" stop-color="#4a4a4a"/><stop offset=".3817" stop-color="#545454"/><stop offset=".4192" stop-color="#757575"/><stop offset=".4308" stop-color="#7e7e7e"/><stop offset=".4433" stop-color="#848484"/><stop offset=".455" stop-color="#868686"/><stop offset=".4583" stop-color="#868686"/><stop offset=".4617" stop-color="#838383"/><stop offset=".465" stop-color="#7f7f7f"/><stop offset=".4692" stop-color="#767676"/><stop offset=".4758" stop-color="#656565"/><stop offset=".4883" stop-color="#3f3f3f"/><stop offset=".4942" stop-color="#2e2e2e"/><stop offset=".5" stop-color="#212121"/><stop offset=".5058" stop-color="#171717"/><stop offset=".5108" stop-color="#111111"/><stop offset=".5167" stop-color="#0d0d0d"/><stop offset=".5492" stop-color="#020202"/><stop offset=".5675" stop-color="#000000"/><stop offset=".7375" stop-color="#010101"/><stop offset="1" stop-color="#0a0a0a"/></linearGradient><linearGradient id="hb3" x1="0" y1="0" x2="0" y2="1"><stop offset="0" stop-color="#101010"/><stop offset=".1292" stop-color="#121212"/><stop offset=".2175" stop-color="#151515"/><stop offset=".2808" stop-color="#1a1a1a"/><stop offset=".3275" stop-color="#202020"/><stop offset=".36" stop-color="#292929"/><stop offset=".3742" stop-color="#2f2f2f"/><stop offset=".3875" stop-color="#353535"/><stop offset=".4" stop-color="#3d3d3d"/><stop offset=".4117" stop-color="#464646"/><stop offset=".4433" stop-color="#626262"/><stop offset=".4525" stop-color="#696969"/><stop offset=".4625" stop-color="#6f6f6f"/><stop offset=".4717" stop-color="#707070"/><stop offset=".4742" stop-color="#707070"/><stop offset=".4767" stop-color="#6e6e6e"/><stop offset=".4792" stop-color="#6a6a6a"/><stop offset=".4817" stop-color="#646464"/><stop offset=".4867" stop-color="#565656"/><stop offset=".4967" stop-color="#333333"/><stop offset=".5008" stop-color="#262626"/><stop offset=".5058" stop-color="#191919"/><stop offset=".51" stop-color="#121212"/><stop offset=".5142" stop-color="#0d0d0d"/><stop offset=".5192" stop-color="#0a0a0a"/><stop offset=".55" stop-color="#010101"/><stop offset=".5608" stop-color="#000000"/><stop offset=".67" stop-color="#010101"/><stop offset=".875" stop-color="#090909"/><stop offset="1" stop-color="#0b0b0b"/></linearGradient><linearGradient id="hb4" x1="0" y1="0" x2="0" y2="1"><stop offset="0" stop-color="#0e0e0e"/><stop offset=".1508" stop-color="#0f0f0f"/><stop offset=".2467" stop-color="#111111"/><stop offset=".3117" stop-color="#141414"/><stop offset=".3575" stop-color="#191919"/><stop offset=".39" stop-color="#1f1f1f"/><stop offset=".4033" stop-color="#232323"/><stop offset=".4158" stop-color="#292929"/><stop offset=".4367" stop-color="#353535"/><stop offset=".4708" stop-color="#505050"/><stop offset=".4783" stop-color="#545454"/><stop offset=".485" stop-color="#555555"/><stop offset=".4875" stop-color="#555555"/><stop offset=".4892" stop-color="#535353"/><stop offset=".4925" stop-color="#4d4d4d"/><stop offset=".4958" stop-color="#434343"/><stop offset=".5025" stop-color="#292929"/><stop offset=".5058" stop-color="#1e1e1e"/><stop offset=".5092" stop-color="#141414"/><stop offset=".5133" stop-color="#0d0d0d"/><stop offset=".5167" stop-color="#0a0a0a"/><stop offset=".52" stop-color="#080808"/><stop offset=".5325" stop-color="#060606"/><stop offset=".5517" stop-color="#010101"/><stop offset=".6283" stop-color="#020202"/><stop offset=".8183" stop-color="#0a0a0a"/><stop offset="1" stop-color="#0b0b0b"/></linearGradient><linearGradient id="hb5" x1="0" y1="0" x2="0" y2="1"><stop offset="0" stop-color="#0d0d0d"/><stop offset=".2725" stop-color="#0e0e0e"/><stop offset=".3383" stop-color="#101010"/><stop offset=".3833" stop-color="#121212"/><stop offset=".4142" stop-color="#161616"/><stop offset=".4383" stop-color="#1b1b1b"/><stop offset=".4567" stop-color="#232323"/><stop offset=".485" stop-color="#333333"/><stop offset=".495" stop-color="#353535"/><stop offset=".4983" stop-color="#353535"/><stop offset=".5008" stop-color="#323232"/><stop offset=".5033" stop-color="#2b2b2b"/><stop offset=".5083" stop-color="#191919"/><stop offset=".5108" stop-color="#121212"/><stop offset=".5133" stop-color="#0c0c0c"/><stop offset=".5158" stop-color="#090909"/><stop offset=".52" stop-color="#070707"/><stop offset=".5317" stop-color="#060606"/><stop offset=".5483" stop-color="#020202"/><stop offset=".685" stop-color="#080808"/><stop offset=".7475" stop-color="#0a0a0a"/><stop offset="1" stop-color="#0b0b0b"/></linearGradient><linearGradient id="hb6" x1="0" y1="0" x2="0" y2="1"><stop offset="0" stop-color="#0c0c0c"/><stop offset=".295" stop-color="#0d0d0d"/><stop offset=".4042" stop-color="#0e0e0e"/><stop offset=".4342" stop-color="#0f0f0f"/><stop offset=".4558" stop-color="#111111"/><stop offset=".5017" stop-color="#1b1b1b"/><stop offset=".5067" stop-color="#1b1b1b"/><stop offset=".5083" stop-color="#191919"/><stop offset=".5142" stop-color="#0b0b0b"/><stop offset=".5175" stop-color="#070707"/><stop offset=".52" stop-color="#060606"/><stop offset=".5308" stop-color="#060606"/><stop offset=".5417" stop-color="#030303"/><stop offset=".62" stop-color="#080808"/><stop offset=".6942" stop-color="#0a0a0a"/><stop offset="1" stop-color="#0b0b0b"/></linearGradient><linearGradient id="hb7" x1="0" y1="0" x2="0" y2="1"><stop offset="0" stop-color="#0c0c0c"/><stop offset=".4167" stop-color="#0c0c0c"/><stop offset=".4658" stop-color="#0d0d0d"/><stop offset=".5067" stop-color="#0e0e0e"/><stop offset=".5133" stop-color="#0d0d0d"/><stop offset=".5183" stop-color="#080808"/><stop offset=".5208" stop-color="#070707"/><stop offset=".5317" stop-color="#060606"/><stop offset=".5817" stop-color="#090909"/><stop offset=".6525" stop-color="#0b0b0b"/><stop offset="1" stop-color="#0b0b0b"/></linearGradient><linearGradient id="hb8" x1="0" y1="0" x2="0" y2="1"><stop offset="0" stop-color="#0b0b0b"/><stop offset=".5125" stop-color="#0b0b0b"/><stop offset=".5208" stop-color="#0b0b0b"/><stop offset=".53" stop-color="#090909"/><stop offset=".6367" stop-color="#0b0b0b"/><stop offset="1" stop-color="#0b0b0b"/></linearGradient><linearGradient id="hb9" x1="0" y1="0" x2="0" y2="1"><stop offset="0" stop-color="#0c0c0c"/><stop offset=".4167" stop-color="#0c0c0c"/><stop offset=".4658" stop-color="#0d0d0d"/><stop offset=".5067" stop-color="#0e0e0e"/><stop offset=".5133" stop-color="#0d0d0d"/><stop offset=".5183" stop-color="#080808"/><stop offset=".5208" stop-color="#070707"/><stop offset=".5317" stop-color="#060606"/><stop offset=".5817" stop-color="#090909"/><stop offset=".6525" stop-color="#0b0b0b"/><stop offset="1" stop-color="#0b0b0b"/></linearGradient><linearGradient id="hb10" x1="0" y1="0" x2="0" y2="1"><stop offset="0" stop-color="#0c0c0c"/><stop offset=".295" stop-color="#0d0d0d"/><stop offset=".4042" stop-color="#0e0e0e"/><stop offset=".4342" stop-color="#0f0f0f"/><stop offset=".4558" stop-color="#111111"/><stop offset=".5017" stop-color="#1b1b1b"/><stop offset=".5067" stop-color="#1b1b1b"/><stop offset=".5083" stop-color="#191919"/><stop offset=".5142" stop-color="#0b0b0b"/><stop offset=".5175" stop-color="#070707"/><stop offset=".52" stop-color="#060606"/><stop offset=".5308" stop-color="#060606"/><stop offset=".5417" stop-color="#030303"/><stop offset=".62" stop-color="#080808"/><stop offset=".6942" stop-color="#0a0a0a"/><stop offset="1" stop-color="#0b0b0b"/></linearGradient><linearGradient id="hb11" x1="0" y1="0" x2="0" y2="1"><stop offset="0" stop-color="#0d0d0d"/><stop offset=".2725" stop-color="#0e0e0e"/><stop offset=".3383" stop-color="#101010"/><stop offset=".3833" stop-color="#121212"/><stop offset=".4142" stop-color="#161616"/><stop offset=".4383" stop-color="#1b1b1b"/><stop offset=".4567" stop-color="#232323"/><stop offset=".485" stop-color="#333333"/><stop offset=".495" stop-color="#353535"/><stop offset=".4983" stop-color="#353535"/><stop offset=".5008" stop-color="#323232"/><stop offset=".5033" stop-color="#2b2b2b"/><stop offset=".5083" stop-color="#191919"/><stop offset=".5108" stop-color="#121212"/><stop offset=".5133" stop-color="#0c0c0c"/><stop offset=".5158" stop-color="#090909"/><stop offset=".52" stop-color="#070707"/><stop offset=".5317" stop-color="#060606"/><stop offset=".5483" stop-color="#020202"/><stop offset=".685" stop-color="#080808"/><stop offset=".7475" stop-color="#0a0a0a"/><stop offset="1" stop-color="#0b0b0b"/></linearGradient><linearGradient id="hb12" x1="0" y1="0" x2="0" y2="1"><stop offset="0" stop-color="#0e0e0e"/><stop offset=".1508" stop-color="#0f0f0f"/><stop offset=".2467" stop-color="#111111"/><stop offset=".3117" stop-color="#141414"/><stop offset=".3575" stop-color="#191919"/><stop offset=".39" stop-color="#1f1f1f"/><stop offset=".4033" stop-color="#232323"/><stop offset=".4158" stop-color="#292929"/><stop offset=".4367" stop-color="#353535"/><stop offset=".4708" stop-color="#505050"/><stop offset=".4783" stop-color="#545454"/><stop offset=".485" stop-color="#555555"/><stop offset=".4875" stop-color="#555555"/><stop offset=".4892" stop-color="#535353"/><stop offset=".4925" stop-color="#4d4d4d"/><stop offset=".4958" stop-color="#434343"/><stop offset=".5025" stop-color="#292929"/><stop offset=".5058" stop-color="#1e1e1e"/><stop offset=".5092" stop-color="#141414"/><stop offset=".5133" stop-color="#0d0d0d"/><stop offset=".5167" stop-color="#0a0a0a"/><stop offset=".52" stop-color="#080808"/><stop offset=".5325" stop-color="#060606"/><stop offset=".5517" stop-color="#010101"/><stop offset=".6283" stop-color="#020202"/><stop offset=".8183" stop-color="#0a0a0a"/><stop offset="1" stop-color="#0b0b0b"/></linearGradient><linearGradient id="hb13" x1="0" y1="0" x2="0" y2="1"><stop offset="0" stop-color="#101010"/><stop offset=".1292" stop-color="#121212"/><stop offset=".2175" stop-color="#151515"/><stop offset=".2808" stop-color="#1a1a1a"/><stop offset=".3275" stop-color="#202020"/><stop offset=".36" stop-color="#292929"/><stop offset=".3742" stop-color="#2f2f2f"/><stop offset=".3875" stop-color="#353535"/><stop offset=".4" stop-color="#3d3d3d"/><stop offset=".4117" stop-color="#464646"/><stop offset=".4433" stop-color="#626262"/><stop offset=".4525" stop-color="#696969"/><stop offset=".4625" stop-color="#6f6f6f"/><stop offset=".4717" stop-color="#707070"/><stop offset=".4742" stop-color="#707070"/><stop offset=".4767" stop-color="#6e6e6e"/><stop offset=".4792" stop-color="#6a6a6a"/><stop offset=".4817" stop-color="#646464"/><stop offset=".4867" stop-color="#565656"/><stop offset=".4967" stop-color="#333333"/><stop offset=".5008" stop-color="#262626"/><stop offset=".5058" stop-color="#191919"/><stop offset=".51" stop-color="#121212"/><stop offset=".5142" stop-color="#0d0d0d"/><stop offset=".5192" stop-color="#0a0a0a"/><stop offset=".55" stop-color="#010101"/><stop offset=".5608" stop-color="#000000"/><stop offset=".67" stop-color="#010101"/><stop offset=".875" stop-color="#090909"/><stop offset="1" stop-color="#0b0b0b"/></linearGradient><linearGradient id="hb14" x1="0" y1="0" x2="0" y2="1"><stop offset="0" stop-color="#131313"/><stop offset=".1083" stop-color="#161616"/><stop offset=".1875" stop-color="#1a1a1a"/><stop offset=".2467" stop-color="#212121"/><stop offset=".2717" stop-color="#252525"/><stop offset=".2933" stop-color="#2a2a2a"/><stop offset=".3258" stop-color="#343434"/><stop offset=".34" stop-color="#3a3a3a"/><stop offset=".3542" stop-color="#414141"/><stop offset=".3683" stop-color="#4a4a4a"/><stop offset=".3817" stop-color="#545454"/><stop offset=".4192" stop-color="#757575"/><stop offset=".4308" stop-color="#7e7e7e"/><stop offset=".4433" stop-color="#848484"/><stop offset=".455" stop-color="#868686"/><stop offset=".4583" stop-color="#868686"/><stop offset=".4617" stop-color="#838383"/><stop offset=".465" stop-color="#7f7f7f"/><stop offset=".4692" stop-color="#767676"/><stop offset=".4758" stop-color="#656565"/><stop offset=".4883" stop-color="#3f3f3f"/><stop offset=".4942" stop-color="#2e2e2e"/><stop offset=".5" stop-color="#212121"/><stop offset=".5058" stop-color="#171717"/><stop offset=".5108" stop-color="#111111"/><stop offset=".5167" stop-color="#0d0d0d"/><stop offset=".5492" stop-color="#020202"/><stop offset=".5675" stop-color="#000000"/><stop offset=".7375" stop-color="#010101"/><stop offset="1" stop-color="#0a0a0a"/></linearGradient><linearGradient id="hb15" x1="0" y1="0" x2="0" y2="1"><stop offset="0" stop-color="#181818"/><stop offset=".0883" stop-color="#1c1c1c"/><stop offset=".1575" stop-color="#212121"/><stop offset=".2117" stop-color="#292929"/><stop offset=".2567" stop-color="#333333"/><stop offset=".2875" stop-color="#3e3e3e"/><stop offset=".3158" stop-color="#4b4b4b"/><stop offset=".3308" stop-color="#545454"/><stop offset=".3458" stop-color="#5f5f5f"/><stop offset=".3908" stop-color="#828282"/><stop offset=".405" stop-color="#8c8c8c"/><stop offset=".4208" stop-color="#949494"/><stop offset=".4283" stop-color="#969696"/><stop offset=".4358" stop-color="#979797"/><stop offset=".44" stop-color="#969696"/><stop offset=".445" stop-color="#929292"/><stop offset=".4492" stop-color="#8c8c8c"/><stop offset=".4542" stop-color="#848484"/><stop offset=".4625" stop-color="#727272"/><stop offset=".4792" stop-color="#474747"/><stop offset=".4867" stop-color="#353535"/><stop offset=".4942" stop-color="#262626"/><stop offset=".5017" stop-color="#1a1a1a"/><stop offset=".5075" stop-color="#141414"/><stop offset=".5142" stop-color="#0f0f0f"/><stop offset=".5492" stop-color="#020202"/><stop offset=".5592" stop-color="#010101"/><stop offset=".5758" stop-color="#000000"/><stop offset=".7825" stop-color="#010101"/><stop offset=".8775" stop-color="#030303"/><stop offset="1" stop-color="#070707"/></linearGradient><linearGradient id="hb16" x1="0" y1="0" x2="0" y2="1"><stop offset="0" stop-color="#1e1e1e"/><stop offset=".07" stop-color="#242424"/><stop offset=".1283" stop-color="#2b2b2b"/><stop offset=".1775" stop-color="#343434"/><stop offset=".2192" stop-color="#3f3f3f"/><stop offset=".2533" stop-color="#4c4c4c"/><stop offset=".2858" stop-color="#5c5c5c"/><stop offset=".3133" stop-color="#6e6e6e"/><stop offset=".3617" stop-color="#909090"/><stop offset=".3792" stop-color="#9b9b9b"/><stop offset=".3967" stop-color="#a2a2a2"/><stop offset=".4133" stop-color="#a4a4a4"/><stop offset=".4192" stop-color="#a3a3a3"/><stop offset=".425" stop-color="#9f9f9f"/><stop offset=".4308" stop-color="#999999"/><stop offset=".4367" stop-color="#909090"/><stop offset=".4475" stop-color="#7c7c7c"/><stop offset=".4692" stop-color="#4d4d4d"/><stop offset=".4783" stop-color="#3a3a3a"/><stop offset=".4875" stop-color="#2a2a2a"/><stop offset=".4967" stop-color="#1e1e1e"/><stop offset=".5042" stop-color="#161616"/><stop offset=".5108" stop-color="#121212"/><stop offset=".5292" stop-color="#0c0c0c"/><stop offset=".55" stop-color="#030303"/><stop offset=".5608" stop-color="#010101"/><stop offset=".58" stop-color="#000000"/><stop offset=".7458" stop-color="#000000"/><stop offset=".8908" stop-color="#010101"/><stop offset="1" stop-color="#040404"/></linearGradient>
<linearGradient id="hc0" x1="0" y1="0" x2="0" y2="1"><stop offset="0" stop-color="#020202"/><stop offset=".1208" stop-color="#040404"/><stop offset=".2025" stop-color="#070707"/><stop offset=".26" stop-color="#0b0b0b"/><stop offset=".3017" stop-color="#121212"/><stop offset=".3308" stop-color="#1a1a1a"/><stop offset=".3433" stop-color="#1f1f1f"/><stop offset=".355" stop-color="#252525"/><stop offset=".3658" stop-color="#2c2c2c"/><stop offset=".3767" stop-color="#353535"/><stop offset=".4117" stop-color="#565656"/><stop offset=".42" stop-color="#5b5b5b"/><stop offset=".4283" stop-color="#5d5d5d"/><stop offset=".4383" stop-color="#5b5b5b"/><stop offset=".4483" stop-color="#575757"/><stop offset=".4583" stop-color="#505050"/><stop offset=".4925" stop-color="#353535"/><stop offset=".5058" stop-color="#2d2d2d"/><stop offset=".5192" stop-color="#262626"/><stop offset=".5342" stop-color="#1f1f1f"/><stop offset=".5508" stop-color="#1a1a1a"/><stop offset=".59" stop-color="#111111"/><stop offset=".645" stop-color="#0b0b0b"/><stop offset=".7217" stop-color="#070707"/><stop offset=".8317" stop-color="#040404"/><stop offset="1" stop-color="#020202"/></linearGradient><linearGradient id="hc1" x1="0" y1="0" x2="0" y2="1"><stop offset="0" stop-color="#010101"/><stop offset=".13" stop-color="#030303"/><stop offset=".2308" stop-color="#060606"/><stop offset=".2925" stop-color="#0a0a0a"/><stop offset=".3158" stop-color="#0d0d0d"/><stop offset=".335" stop-color="#111111"/><stop offset=".3508" stop-color="#151515"/><stop offset=".3642" stop-color="#1a1a1a"/><stop offset=".3767" stop-color="#212121"/><stop offset=".3875" stop-color="#282828"/><stop offset=".3975" stop-color="#313131"/><stop offset=".4067" stop-color="#3a3a3a"/><stop offset=".4308" stop-color="#5b5b5b"/><stop offset=".4375" stop-color="#626262"/><stop offset=".4442" stop-color="#686868"/><stop offset=".4508" stop-color="#6a6a6a"/><stop offset=".4583" stop-color="#686868"/><stop offset=".4667" stop-color="#626262"/><stop offset=".475" stop-color="#5a5a5a"/><stop offset=".4942" stop-color="#454545"/><stop offset=".5042" stop-color="#3b3b3b"/><stop offset=".5158" stop-color="#313131"/><stop offset=".5275" stop-color="#292929"/><stop offset=".5408" stop-color="#212121"/><stop offset=".5558" stop-color="#1b1b1b"/><stop offset=".5725" stop-color="#161616"/><stop offset=".5917" stop-color="#121212"/><stop offset=".6433" stop-color="#0b0b0b"/><stop offset=".7167" stop-color="#070707"/><stop offset=".8275" stop-color="#040404"/><stop offset="1" stop-color="#010101"/></linearGradient><linearGradient id="hc2" x1="0" y1="0" x2="0" y2="1"><stop offset="0" stop-color="#010101"/><stop offset=".1225" stop-color="#010101"/><stop offset=".2583" stop-color="#050505"/><stop offset=".3242" stop-color="#090909"/><stop offset=".3475" stop-color="#0c0c0c"/><stop offset=".3667" stop-color="#101010"/><stop offset=".3817" stop-color="#151515"/><stop offset=".3942" stop-color="#1a1a1a"/><stop offset=".4058" stop-color="#212121"/><stop offset=".4158" stop-color="#2a2a2a"/><stop offset=".425" stop-color="#343434"/><stop offset=".4333" stop-color="#404040"/><stop offset=".4408" stop-color="#4d4d4d"/><stop offset=".4542" stop-color="#666666"/><stop offset=".4592" stop-color="#6e6e6e"/><stop offset=".465" stop-color="#757575"/><stop offset=".47" stop-color="#767676"/><stop offset=".4758" stop-color="#747474"/><stop offset=".4825" stop-color="#6e6e6e"/><stop offset=".4892" stop-color="#666666"/><stop offset=".505" stop-color="#4d4d4d"/><stop offset=".5142" stop-color="#404040"/><stop offset=".5242" stop-color="#353535"/><stop offset=".5342" stop-color="#2b2b2b"/><stop offset=".5458" stop-color="#232323"/><stop offset=".5592" stop-color="#1c1c1c"/><stop offset=".575" stop-color="#161616"/><stop offset=".5925" stop-color="#121212"/><stop offset=".615" stop-color="#0d0d0d"/><stop offset=".6417" stop-color="#0a0a0a"/><stop offset=".7142" stop-color="#060606"/><stop offset=".845" stop-color="#020202"/><stop offset="1" stop-color="#010101"/></linearGradient><linearGradient id="hc3" x1="0" y1="0" x2="0" y2="1"><stop offset="0" stop-color="#010101"/><stop offset=".1825" stop-color="#010101"/><stop offset=".2817" stop-color="#040404"/><stop offset=".3517" stop-color="#080808"/><stop offset=".375" stop-color="#0b0b0b"/><stop offset=".3942" stop-color="#0f0f0f"/><stop offset=".4083" stop-color="#131313"/><stop offset=".4208" stop-color="#191919"/><stop offset=".4317" stop-color="#212121"/><stop offset=".4408" stop-color="#2b2b2b"/><stop offset=".4483" stop-color="#353535"/><stop offset=".4558" stop-color="#434343"/><stop offset=".4617" stop-color="#515151"/><stop offset=".4733" stop-color="#6f6f6f"/><stop offset=".4775" stop-color="#787878"/><stop offset=".4817" stop-color="#7e7e7e"/><stop offset=".4858" stop-color="#808080"/><stop offset=".4908" stop-color="#7e7e7e"/><stop offset=".4958" stop-color="#787878"/><stop offset=".5008" stop-color="#6f6f6f"/><stop offset=".5142" stop-color="#535353"/><stop offset=".5217" stop-color="#454545"/><stop offset=".53" stop-color="#383838"/><stop offset=".5392" stop-color="#2d2d2d"/><stop offset=".55" stop-color="#232323"/><stop offset=".5617" stop-color="#1c1c1c"/><stop offset=".5758" stop-color="#151515"/><stop offset=".5917" stop-color="#111111"/><stop offset=".6125" stop-color="#0d0d0d"/><stop offset=".6375" stop-color="#090909"/><stop offset=".71" stop-color="#050505"/><stop offset=".8625" stop-color="#010101"/><stop offset="1" stop-color="#010101"/></linearGradient><linearGradient id="hc4" x1="0" y1="0" x2="0" y2="1"><stop offset="0" stop-color="#000000"/><stop offset=".2225" stop-color="#010101"/><stop offset=".2983" stop-color="#020202"/><stop offset=".375" stop-color="#060606"/><stop offset=".3992" stop-color="#090909"/><stop offset=".4183" stop-color="#0d0d0d"/><stop offset=".4325" stop-color="#111111"/><stop offset=".4442" stop-color="#181818"/><stop offset=".4533" stop-color="#1f1f1f"/><stop offset=".4617" stop-color="#292929"/><stop offset=".4683" stop-color="#343434"/><stop offset=".4742" stop-color="#414141"/><stop offset=".4792" stop-color="#505050"/><stop offset=".4883" stop-color="#6d6d6d"/><stop offset=".4925" stop-color="#797979"/><stop offset=".4958" stop-color="#7f7f7f"/><stop offset=".4992" stop-color="#818181"/><stop offset=".5033" stop-color="#7f7f7f"/><stop offset=".5075" stop-color="#787878"/><stop offset=".5117" stop-color="#6f6f6f"/><stop offset=".5233" stop-color="#505050"/><stop offset=".5283" stop-color="#444444"/><stop offset=".5358" stop-color="#363636"/><stop offset=".5433" stop-color="#2b2b2b"/><stop offset=".5525" stop-color="#212121"/><stop offset=".5633" stop-color="#191919"/><stop offset=".5758" stop-color="#131313"/><stop offset=".59" stop-color="#0f0f0f"/><stop offset=".61" stop-color="#0b0b0b"/><stop offset=".635" stop-color="#080808"/><stop offset=".7092" stop-color="#040404"/><stop offset=".7975" stop-color="#010101"/><stop offset="1" stop-color="#000000"/></linearGradient><linearGradient id="hc5" x1="0" y1="0" x2="0" y2="1"><stop offset="0" stop-color="#000000"/><stop offset=".3125" stop-color="#010101"/><stop offset=".395" stop-color="#040404"/><stop offset=".42" stop-color="#070707"/><stop offset=".4383" stop-color="#0a0a0a"/><stop offset=".4517" stop-color="#0e0e0e"/><stop offset=".4625" stop-color="#131313"/><stop offset=".4708" stop-color="#1a1a1a"/><stop offset=".4783" stop-color="#232323"/><stop offset=".4842" stop-color="#2d2d2d"/><stop offset=".4892" stop-color="#393939"/><stop offset=".4933" stop-color="#464646"/><stop offset=".5008" stop-color="#616161"/><stop offset=".5042" stop-color="#6b6b6b"/><stop offset=".5067" stop-color="#707070"/><stop offset=".5092" stop-color="#727272"/><stop offset=".5125" stop-color="#707070"/><stop offset=".5158" stop-color="#6a6a6a"/><stop offset=".52" stop-color="#606060"/><stop offset=".5292" stop-color="#454545"/><stop offset=".5333" stop-color="#3b3b3b"/><stop offset=".5392" stop-color="#2f2f2f"/><stop offset=".5458" stop-color="#252525"/><stop offset=".5542" stop-color="#1c1c1c"/><stop offset=".5633" stop-color="#151515"/><stop offset=".5742" stop-color="#101010"/><stop offset=".5883" stop-color="#0c0c0c"/><stop offset=".6083" stop-color="#080808"/><stop offset=".6358" stop-color="#050505"/><stop offset=".7233" stop-color="#020202"/><stop offset="1" stop-color="#000000"/></linearGradient><linearGradient id="hc6" x1="0" y1="0" x2="0" y2="1"><stop offset="0" stop-color="#000000"/><stop offset=".3733" stop-color="#010101"/><stop offset=".4208" stop-color="#030303"/><stop offset=".4517" stop-color="#060606"/><stop offset=".465" stop-color="#080808"/><stop offset=".475" stop-color="#0c0c0c"/><stop offset=".4833" stop-color="#101010"/><stop offset=".49" stop-color="#161616"/><stop offset=".4942" stop-color="#1c1c1c"/><stop offset=".4983" stop-color="#232323"/><stop offset=".5033" stop-color="#2e2e2e"/><stop offset=".5117" stop-color="#464646"/><stop offset=".5142" stop-color="#4a4a4a"/><stop offset=".5167" stop-color="#4c4c4c"/><stop offset=".5192" stop-color="#4b4b4b"/><stop offset=".5217" stop-color="#484848"/><stop offset=".5242" stop-color="#434343"/><stop offset=".5325" stop-color="#2f2f2f"/><stop offset=".5367" stop-color="#272727"/><stop offset=".5425" stop-color="#1e1e1e"/><stop offset=".5483" stop-color="#171717"/><stop offset=".5558" stop-color="#111111"/><stop offset=".5642" stop-color="#0d0d0d"/><stop offset=".575" stop-color="#0a0a0a"/><stop offset=".5883" stop-color="#070707"/><stop offset=".6192" stop-color="#040404"/><stop offset=".6675" stop-color="#010101"/><stop offset="1" stop-color="#000000"/></linearGradient><linearGradient id="hc7" x1="0" y1="0" x2="0" y2="1"><stop offset="0" stop-color="#000000"/><stop offset=".4425" stop-color="#010101"/><stop offset=".475" stop-color="#030303"/><stop offset=".4933" stop-color="#070707"/><stop offset=".5042" stop-color="#0c0c0c"/><stop offset=".5175" stop-color="#1a1a1a"/><stop offset=".5217" stop-color="#1b1b1b"/><stop offset=".5267" stop-color="#191919"/><stop offset=".5408" stop-color="#0d0d0d"/><stop offset=".5517" stop-color="#080808"/><stop offset=".5708" stop-color="#040404"/><stop offset=".6025" stop-color="#010101"/><stop offset="1" stop-color="#000000"/></linearGradient><linearGradient id="hc8" x1="0" y1="0" x2="0" y2="1"><stop offset="0" stop-color="#000000"/><stop offset=".5075" stop-color="#000000"/><stop offset=".5225" stop-color="#030303"/><stop offset=".5375" stop-color="#000000"/><stop offset="1" stop-color="#000000"/></linearGradient><linearGradient id="hc9" x1="0" y1="0" x2="0" y2="1"><stop offset="0" stop-color="#000000"/><stop offset=".4425" stop-color="#010101"/><stop offset=".475" stop-color="#030303"/><stop offset=".4933" stop-color="#070707"/><stop offset=".5042" stop-color="#0c0c0c"/><stop offset=".5175" stop-color="#1a1a1a"/><stop offset=".5217" stop-color="#1b1b1b"/><stop offset=".5267" stop-color="#191919"/><stop offset=".5408" stop-color="#0d0d0d"/><stop offset=".5517" stop-color="#080808"/><stop offset=".5708" stop-color="#040404"/><stop offset=".6025" stop-color="#010101"/><stop offset="1" stop-color="#000000"/></linearGradient><linearGradient id="hc10" x1="0" y1="0" x2="0" y2="1"><stop offset="0" stop-color="#000000"/><stop offset=".3733" stop-color="#010101"/><stop offset=".4208" stop-color="#030303"/><stop offset=".4517" stop-color="#060606"/><stop offset=".465" stop-color="#080808"/><stop offset=".475" stop-color="#0c0c0c"/><stop offset=".4833" stop-color="#101010"/><stop offset=".49" stop-color="#161616"/><stop offset=".4942" stop-color="#1c1c1c"/><stop offset=".4983" stop-color="#232323"/><stop offset=".5033" stop-color="#2e2e2e"/><stop offset=".5117" stop-color="#464646"/><stop offset=".5142" stop-color="#4a4a4a"/><stop offset=".5167" stop-color="#4c4c4c"/><stop offset=".5192" stop-color="#4b4b4b"/><stop offset=".5217" stop-color="#484848"/><stop offset=".5242" stop-color="#434343"/><stop offset=".5325" stop-color="#2f2f2f"/><stop offset=".5367" stop-color="#272727"/><stop offset=".5425" stop-color="#1e1e1e"/><stop offset=".5483" stop-color="#171717"/><stop offset=".5558" stop-color="#111111"/><stop offset=".5642" stop-color="#0d0d0d"/><stop offset=".575" stop-color="#0a0a0a"/><stop offset=".5883" stop-color="#070707"/><stop offset=".6192" stop-color="#040404"/><stop offset=".6675" stop-color="#010101"/><stop offset="1" stop-color="#000000"/></linearGradient><linearGradient id="hc11" x1="0" y1="0" x2="0" y2="1"><stop offset="0" stop-color="#000000"/><stop offset=".3125" stop-color="#010101"/><stop offset=".395" stop-color="#040404"/><stop offset=".42" stop-color="#070707"/><stop offset=".4383" stop-color="#0a0a0a"/><stop offset=".4517" stop-color="#0e0e0e"/><stop offset=".4625" stop-color="#131313"/><stop offset=".4708" stop-color="#1a1a1a"/><stop offset=".4783" stop-color="#232323"/><stop offset=".4842" stop-color="#2d2d2d"/><stop offset=".4892" stop-color="#393939"/><stop offset=".4933" stop-color="#464646"/><stop offset=".5008" stop-color="#616161"/><stop offset=".5042" stop-color="#6b6b6b"/><stop offset=".5067" stop-color="#707070"/><stop offset=".5092" stop-color="#727272"/><stop offset=".5125" stop-color="#707070"/><stop offset=".5158" stop-color="#6a6a6a"/><stop offset=".52" stop-color="#606060"/><stop offset=".5292" stop-color="#454545"/><stop offset=".5333" stop-color="#3b3b3b"/><stop offset=".5392" stop-color="#2f2f2f"/><stop offset=".5458" stop-color="#252525"/><stop offset=".5542" stop-color="#1c1c1c"/><stop offset=".5633" stop-color="#151515"/><stop offset=".5742" stop-color="#101010"/><stop offset=".5883" stop-color="#0c0c0c"/><stop offset=".6083" stop-color="#080808"/><stop offset=".6358" stop-color="#050505"/><stop offset=".7233" stop-color="#020202"/><stop offset="1" stop-color="#000000"/></linearGradient><linearGradient id="hc12" x1="0" y1="0" x2="0" y2="1"><stop offset="0" stop-color="#000000"/><stop offset=".2225" stop-color="#010101"/><stop offset=".2983" stop-color="#020202"/><stop offset=".375" stop-color="#060606"/><stop offset=".3992" stop-color="#090909"/><stop offset=".4183" stop-color="#0d0d0d"/><stop offset=".4325" stop-color="#111111"/><stop offset=".4442" stop-color="#181818"/><stop offset=".4533" stop-color="#1f1f1f"/><stop offset=".4617" stop-color="#292929"/><stop offset=".4683" stop-color="#343434"/><stop offset=".4742" stop-color="#414141"/><stop offset=".4792" stop-color="#505050"/><stop offset=".4883" stop-color="#6d6d6d"/><stop offset=".4925" stop-color="#797979"/><stop offset=".4958" stop-color="#7f7f7f"/><stop offset=".4992" stop-color="#818181"/><stop offset=".5033" stop-color="#7f7f7f"/><stop offset=".5075" stop-color="#787878"/><stop offset=".5117" stop-color="#6f6f6f"/><stop offset=".5233" stop-color="#505050"/><stop offset=".5283" stop-color="#444444"/><stop offset=".5358" stop-color="#363636"/><stop offset=".5433" stop-color="#2b2b2b"/><stop offset=".5525" stop-color="#212121"/><stop offset=".5633" stop-color="#191919"/><stop offset=".5758" stop-color="#131313"/><stop offset=".59" stop-color="#0f0f0f"/><stop offset=".61" stop-color="#0b0b0b"/><stop offset=".635" stop-color="#080808"/><stop offset=".7092" stop-color="#040404"/><stop offset=".7975" stop-color="#010101"/><stop offset="1" stop-color="#000000"/></linearGradient><linearGradient id="hc13" x1="0" y1="0" x2="0" y2="1"><stop offset="0" stop-color="#010101"/><stop offset=".1825" stop-color="#010101"/><stop offset=".2817" stop-color="#040404"/><stop offset=".3517" stop-color="#080808"/><stop offset=".375" stop-color="#0b0b0b"/><stop offset=".3942" stop-color="#0f0f0f"/><stop offset=".4083" stop-color="#131313"/><stop offset=".4208" stop-color="#191919"/><stop offset=".4317" stop-color="#212121"/><stop offset=".4408" stop-color="#2b2b2b"/><stop offset=".4483" stop-color="#353535"/><stop offset=".4558" stop-color="#434343"/><stop offset=".4617" stop-color="#515151"/><stop offset=".4733" stop-color="#6f6f6f"/><stop offset=".4775" stop-color="#787878"/><stop offset=".4817" stop-color="#7e7e7e"/><stop offset=".4858" stop-color="#808080"/><stop offset=".4908" stop-color="#7e7e7e"/><stop offset=".4958" stop-color="#787878"/><stop offset=".5008" stop-color="#6f6f6f"/><stop offset=".5142" stop-color="#535353"/><stop offset=".5217" stop-color="#454545"/><stop offset=".53" stop-color="#383838"/><stop offset=".5392" stop-color="#2d2d2d"/><stop offset=".55" stop-color="#232323"/><stop offset=".5617" stop-color="#1c1c1c"/><stop offset=".5758" stop-color="#151515"/><stop offset=".5917" stop-color="#111111"/><stop offset=".6125" stop-color="#0d0d0d"/><stop offset=".6375" stop-color="#090909"/><stop offset=".71" stop-color="#050505"/><stop offset=".8625" stop-color="#010101"/><stop offset="1" stop-color="#010101"/></linearGradient><linearGradient id="hc14" x1="0" y1="0" x2="0" y2="1"><stop offset="0" stop-color="#010101"/><stop offset=".1225" stop-color="#010101"/><stop offset=".2583" stop-color="#050505"/><stop offset=".3242" stop-color="#090909"/><stop offset=".3475" stop-color="#0c0c0c"/><stop offset=".3667" stop-color="#101010"/><stop offset=".3817" stop-color="#151515"/><stop offset=".3942" stop-color="#1a1a1a"/><stop offset=".4058" stop-color="#212121"/><stop offset=".4158" stop-color="#2a2a2a"/><stop offset=".425" stop-color="#343434"/><stop offset=".4333" stop-color="#404040"/><stop offset=".4408" stop-color="#4d4d4d"/><stop offset=".4542" stop-color="#666666"/><stop offset=".4592" stop-color="#6e6e6e"/><stop offset=".465" stop-color="#757575"/><stop offset=".47" stop-color="#767676"/><stop offset=".4758" stop-color="#747474"/><stop offset=".4825" stop-color="#6e6e6e"/><stop offset=".4892" stop-color="#666666"/><stop offset=".505" stop-color="#4d4d4d"/><stop offset=".5142" stop-color="#404040"/><stop offset=".5242" stop-color="#353535"/><stop offset=".5342" stop-color="#2b2b2b"/><stop offset=".5458" stop-color="#232323"/><stop offset=".5592" stop-color="#1c1c1c"/><stop offset=".575" stop-color="#161616"/><stop offset=".5925" stop-color="#121212"/><stop offset=".615" stop-color="#0d0d0d"/><stop offset=".6417" stop-color="#0a0a0a"/><stop offset=".7142" stop-color="#060606"/><stop offset=".845" stop-color="#020202"/><stop offset="1" stop-color="#010101"/></linearGradient><linearGradient id="hc15" x1="0" y1="0" x2="0" y2="1"><stop offset="0" stop-color="#010101"/><stop offset=".13" stop-color="#030303"/><stop offset=".2308" stop-color="#060606"/><stop offset=".2925" stop-color="#0a0a0a"/><stop offset=".3158" stop-color="#0d0d0d"/><stop offset=".335" stop-color="#111111"/><stop offset=".3508" stop-color="#151515"/><stop offset=".3642" stop-color="#1a1a1a"/><stop offset=".3767" stop-color="#212121"/><stop offset=".3875" stop-color="#282828"/><stop offset=".3975" stop-color="#313131"/><stop offset=".4067" stop-color="#3a3a3a"/><stop offset=".4308" stop-color="#5b5b5b"/><stop offset=".4375" stop-color="#626262"/><stop offset=".4442" stop-color="#686868"/><stop offset=".4508" stop-color="#6a6a6a"/><stop offset=".4583" stop-color="#686868"/><stop offset=".4667" stop-color="#626262"/><stop offset=".475" stop-color="#5a5a5a"/><stop offset=".4942" stop-color="#454545"/><stop offset=".5042" stop-color="#3b3b3b"/><stop offset=".5158" stop-color="#313131"/><stop offset=".5275" stop-color="#292929"/><stop offset=".5408" stop-color="#212121"/><stop offset=".5558" stop-color="#1b1b1b"/><stop offset=".5725" stop-color="#161616"/><stop offset=".5917" stop-color="#121212"/><stop offset=".6433" stop-color="#0b0b0b"/><stop offset=".7167" stop-color="#070707"/><stop offset=".8275" stop-color="#040404"/><stop offset="1" stop-color="#010101"/></linearGradient><linearGradient id="hc16" x1="0" y1="0" x2="0" y2="1"><stop offset="0" stop-color="#020202"/><stop offset=".1208" stop-color="#040404"/><stop offset=".2025" stop-color="#070707"/><stop offset=".26" stop-color="#0b0b0b"/><stop offset=".3017" stop-color="#121212"/><stop offset=".3308" stop-color="#1a1a1a"/><stop offset=".3433" stop-color="#1f1f1f"/><stop offset=".355" stop-color="#252525"/><stop offset=".3658" stop-color="#2c2c2c"/><stop offset=".3767" stop-color="#353535"/><stop offset=".4117" stop-color="#565656"/><stop offset=".42" stop-color="#5b5b5b"/><stop offset=".4283" stop-color="#5d5d5d"/><stop offset=".4383" stop-color="#5b5b5b"/><stop offset=".4483" stop-color="#575757"/><stop offset=".4583" stop-color="#505050"/><stop offset=".4925" stop-color="#353535"/><stop offset=".5058" stop-color="#2d2d2d"/><stop offset=".5192" stop-color="#262626"/><stop offset=".5342" stop-color="#1f1f1f"/><stop offset=".5508" stop-color="#1a1a1a"/><stop offset=".59" stop-color="#111111"/><stop offset=".645" stop-color="#0b0b0b"/><stop offset=".7217" stop-color="#070707"/><stop offset=".8317" stop-color="#040404"/><stop offset="1" stop-color="#020202"/></linearGradient>
<linearGradient id="hd0" x1="0" y1="0" x2="0" y2="1"><stop offset="0" stop-color="#0d0d0d"/><stop offset=".1117" stop-color="#101010"/><stop offset=".1908" stop-color="#161616"/><stop offset=".2217" stop-color="#1a1a1a"/><stop offset=".2492" stop-color="#1f1f1f"/><stop offset=".2733" stop-color="#252525"/><stop offset=".2942" stop-color="#2c2c2c"/><stop offset=".3108" stop-color="#333333"/><stop offset=".3258" stop-color="#3b3b3b"/><stop offset=".3392" stop-color="#444444"/><stop offset=".3525" stop-color="#4f4f4f"/><stop offset=".365" stop-color="#5c5c5c"/><stop offset=".3775" stop-color="#6b6b6b"/><stop offset=".3892" stop-color="#7b7b7b"/><stop offset=".4117" stop-color="#9b9b9b"/><stop offset=".4217" stop-color="#a8a8a8"/><stop offset=".4275" stop-color="#aeaeae"/><stop offset=".4333" stop-color="#b2b2b2"/><stop offset=".4392" stop-color="#b5b5b5"/><stop offset=".4442" stop-color="#b6b6b6"/><stop offset=".4483" stop-color="#b5b5b5"/><stop offset=".4533" stop-color="#b2b2b2"/><stop offset=".4575" stop-color="#aeaeae"/><stop offset=".4625" stop-color="#a9a9a9"/><stop offset=".4717" stop-color="#9b9b9b"/><stop offset=".4917" stop-color="#797979"/><stop offset=".5025" stop-color="#686868"/><stop offset=".515" stop-color="#575757"/><stop offset=".5275" stop-color="#4a4a4a"/><stop offset=".5417" stop-color="#3d3d3d"/><stop offset=".5575" stop-color="#333333"/><stop offset=".575" stop-color="#2a2a2a"/><stop offset=".5942" stop-color="#232323"/><stop offset=".6183" stop-color="#1d1d1d"/><stop offset=".6475" stop-color="#181818"/><stop offset=".6808" stop-color="#141414"/><stop offset=".7217" stop-color="#111111"/><stop offset=".8308" stop-color="#0c0c0c"/><stop offset="1" stop-color="#0a0a0a"/></linearGradient><linearGradient id="hd1" x1="0" y1="0" x2="0" y2="1"><stop offset="0" stop-color="#0b0b0b"/><stop offset=".1308" stop-color="#0f0f0f"/><stop offset=".2183" stop-color="#141414"/><stop offset=".2517" stop-color="#181818"/><stop offset=".28" stop-color="#1d1d1d"/><stop offset=".3042" stop-color="#232323"/><stop offset=".325" stop-color="#2a2a2a"/><stop offset=".3417" stop-color="#323232"/><stop offset=".3567" stop-color="#3c3c3c"/><stop offset=".37" stop-color="#474747"/><stop offset=".3825" stop-color="#545454"/><stop offset=".3942" stop-color="#646464"/><stop offset=".405" stop-color="#757575"/><stop offset=".415" stop-color="#888888"/><stop offset=".4342" stop-color="#aeaeae"/><stop offset=".4425" stop-color="#bcbcbc"/><stop offset=".4475" stop-color="#c3c3c3"/><stop offset=".4517" stop-color="#c7c7c7"/><stop offset=".4567" stop-color="#cbcbcb"/><stop offset=".4608" stop-color="#cbcbcb"/><stop offset=".4642" stop-color="#cbcbcb"/><stop offset=".4683" stop-color="#c8c8c8"/><stop offset=".4717" stop-color="#c4c4c4"/><stop offset=".4758" stop-color="#bdbdbd"/><stop offset=".4825" stop-color="#b0b0b0"/><stop offset=".5008" stop-color="#858585"/><stop offset=".51" stop-color="#727272"/><stop offset=".5208" stop-color="#5e5e5e"/><stop offset=".5317" stop-color="#4f4f4f"/><stop offset=".5442" stop-color="#414141"/><stop offset=".5583" stop-color="#353535"/><stop offset=".5742" stop-color="#2b2b2b"/><stop offset=".5925" stop-color="#232323"/><stop offset=".615" stop-color="#1d1d1d"/><stop offset=".6417" stop-color="#171717"/><stop offset=".6742" stop-color="#131313"/><stop offset=".7142" stop-color="#101010"/><stop offset=".8233" stop-color="#0c0c0c"/><stop offset="1" stop-color="#0a0a0a"/></linearGradient><linearGradient id="hd2" x1="0" y1="0" x2="0" y2="1"><stop offset="0" stop-color="#0a0a0a"/><stop offset=".1508" stop-color="#0d0d0d"/><stop offset=".2458" stop-color="#121212"/><stop offset=".2808" stop-color="#161616"/><stop offset=".31" stop-color="#1a1a1a"/><stop offset=".3342" stop-color="#212121"/><stop offset=".3542" stop-color="#282828"/><stop offset=".3708" stop-color="#313131"/><stop offset=".385" stop-color="#3c3c3c"/><stop offset=".3975" stop-color="#484848"/><stop offset=".4092" stop-color="#585858"/><stop offset=".4192" stop-color="#696969"/><stop offset=".4292" stop-color="#7e7e7e"/><stop offset=".4383" stop-color="#959595"/><stop offset=".455" stop-color="#c2c2c2"/><stop offset=".4617" stop-color="#d2d2d2"/><stop offset=".4658" stop-color="#d9d9d9"/><stop offset=".4692" stop-color="#dedede"/><stop offset=".4725" stop-color="#e0e0e0"/><stop offset=".4758" stop-color="#e1e1e1"/><stop offset=".4783" stop-color="#e0e0e0"/><stop offset=".4817" stop-color="#dddddd"/><stop offset=".4842" stop-color="#d9d9d9"/><stop offset=".4875" stop-color="#d2d2d2"/><stop offset=".4933" stop-color="#c2c2c2"/><stop offset=".5083" stop-color="#929292"/><stop offset=".5167" stop-color="#7b7b7b"/><stop offset=".5258" stop-color="#656565"/><stop offset=".535" stop-color="#535353"/><stop offset=".5408" stop-color="#4a4a4a"/><stop offset=".5467" stop-color="#434343"/><stop offset=".5592" stop-color="#363636"/><stop offset=".5742" stop-color="#2b2b2b"/><stop offset=".5908" stop-color="#232323"/><stop offset=".6117" stop-color="#1c1c1c"/><stop offset=".6367" stop-color="#161616"/><stop offset=".6675" stop-color="#121212"/><stop offset=".7058" stop-color="#0f0f0f"/><stop offset=".815" stop-color="#0b0b0b"/><stop offset="1" stop-color="#090909"/></linearGradient><linearGradient id="hd3" x1="0" y1="0" x2="0" y2="1"><stop offset="0" stop-color="#090909"/><stop offset=".1717" stop-color="#0b0b0b"/><stop offset=".2733" stop-color="#101010"/><stop offset=".3092" stop-color="#131313"/><stop offset=".3375" stop-color="#171717"/><stop offset=".3608" stop-color="#1d1d1d"/><stop offset=".3808" stop-color="#252525"/><stop offset=".3967" stop-color="#2e2e2e"/><stop offset=".41" stop-color="#393939"/><stop offset=".4217" stop-color="#474747"/><stop offset=".4275" stop-color="#4f4f4f"/><stop offset=".4325" stop-color="#585858"/><stop offset=".4417" stop-color="#6c6c6c"/><stop offset=".4467" stop-color="#797979"/><stop offset=".4508" stop-color="#858585"/><stop offset=".4583" stop-color="#9e9e9e"/><stop offset=".4725" stop-color="#d1d1d1"/><stop offset=".4775" stop-color="#e1e1e1"/><stop offset=".4808" stop-color="#e9e9e9"/><stop offset=".4833" stop-color="#eeeeee"/><stop offset=".4867" stop-color="#f1f1f1"/><stop offset=".4892" stop-color="#f2f2f2"/><stop offset=".4908" stop-color="#f1f1f1"/><stop offset=".4933" stop-color="#eeeeee"/><stop offset=".4958" stop-color="#e9e9e9"/><stop offset=".4983" stop-color="#e1e1e1"/><stop offset=".5025" stop-color="#d2d2d2"/><stop offset=".515" stop-color="#9d9d9d"/><stop offset=".5217" stop-color="#838383"/><stop offset=".5258" stop-color="#757575"/><stop offset=".53" stop-color="#696969"/><stop offset=".5342" stop-color="#5e5e5e"/><stop offset=".5383" stop-color="#555555"/><stop offset=".5433" stop-color="#4b4b4b"/><stop offset=".5483" stop-color="#434343"/><stop offset=".5592" stop-color="#353535"/><stop offset=".5725" stop-color="#2a2a2a"/><stop offset=".5883" stop-color="#212121"/><stop offset=".6075" stop-color="#1a1a1a"/><stop offset=".6308" stop-color="#151515"/><stop offset=".66" stop-color="#111111"/><stop offset=".6975" stop-color="#0e0e0e"/><stop offset=".8058" stop-color="#0a0a0a"/><stop offset="1" stop-color="#090909"/></linearGradient><linearGradient id="hd4" x1="0" y1="0" x2="0" y2="1"><stop offset="0" stop-color="#090909"/><stop offset=".1933" stop-color="#0a0a0a"/><stop offset=".3" stop-color="#0e0e0e"/><stop offset=".3367" stop-color="#111111"/><stop offset=".365" stop-color="#141414"/><stop offset=".3875" stop-color="#1a1a1a"/><stop offset=".4058" stop-color="#202020"/><stop offset=".4208" stop-color="#292929"/><stop offset=".4333" stop-color="#353535"/><stop offset=".4392" stop-color="#3c3c3c"/><stop offset=".4442" stop-color="#434343"/><stop offset=".4492" stop-color="#4b4b4b"/><stop offset=".4533" stop-color="#545454"/><stop offset=".4575" stop-color="#5e5e5e"/><stop offset=".4617" stop-color="#6a6a6a"/><stop offset=".4658" stop-color="#777777"/><stop offset=".4692" stop-color="#838383"/><stop offset=".4758" stop-color="#9f9f9f"/><stop offset=".4867" stop-color="#d0d0d0"/><stop offset=".4908" stop-color="#e1e1e1"/><stop offset=".4933" stop-color="#e9e9e9"/><stop offset=".4958" stop-color="#efefef"/><stop offset=".4983" stop-color="#f2f2f2"/><stop offset=".5" stop-color="#f2f2f2"/><stop offset=".5017" stop-color="#f1f1f1"/><stop offset=".5033" stop-color="#efefef"/><stop offset=".505" stop-color="#ebebeb"/><stop offset=".5075" stop-color="#e2e2e2"/><stop offset=".5108" stop-color="#d3d3d3"/><stop offset=".5208" stop-color="#9d9d9d"/><stop offset=".5267" stop-color="#818181"/><stop offset=".53" stop-color="#737373"/><stop offset=".5333" stop-color="#676767"/><stop offset=".5367" stop-color="#5c5c5c"/><stop offset=".5408" stop-color="#515151"/><stop offset=".545" stop-color="#484848"/><stop offset=".5492" stop-color="#404040"/><stop offset=".5542" stop-color="#383838"/><stop offset=".5592" stop-color="#323232"/><stop offset=".5708" stop-color="#272727"/><stop offset=".5858" stop-color="#1e1e1e"/><stop offset=".6033" stop-color="#171717"/><stop offset=".625" stop-color="#131313"/><stop offset=".6525" stop-color="#0f0f0f"/><stop offset=".6883" stop-color="#0d0d0d"/><stop offset=".7958" stop-color="#0a0a0a"/><stop offset="1" stop-color="#080808"/></linearGradient><linearGradient id="hd5" x1="0" y1="0" x2="0" y2="1"><stop offset="0" stop-color="#080808"/><stop offset=".2133" stop-color="#090909"/><stop offset=".3233" stop-color="#0c0c0c"/><stop offset=".3592" stop-color="#0e0e0e"/><stop offset=".3867" stop-color="#101010"/><stop offset=".4083" stop-color="#141414"/><stop offset=".4258" stop-color="#1a1a1a"/><stop offset=".44" stop-color="#212121"/><stop offset=".4517" stop-color="#2a2a2a"/><stop offset=".4567" stop-color="#303030"/><stop offset=".4617" stop-color="#373737"/><stop offset=".4658" stop-color="#3e3e3e"/><stop offset=".47" stop-color="#464646"/><stop offset=".4733" stop-color="#4e4e4e"/><stop offset=".4767" stop-color="#575757"/><stop offset=".48" stop-color="#626262"/><stop offset=".4833" stop-color="#6e6e6e"/><stop offset=".4892" stop-color="#888888"/><stop offset=".4992" stop-color="#bababa"/><stop offset=".5025" stop-color="#c7c7c7"/><stop offset=".5042" stop-color="#cdcdcd"/><stop offset=".5058" stop-color="#d1d1d1"/><stop offset=".5075" stop-color="#d3d3d3"/><stop offset=".5092" stop-color="#d4d4d4"/><stop offset=".5117" stop-color="#d1d1d1"/><stop offset=".5133" stop-color="#cccccc"/><stop offset=".515" stop-color="#c6c6c6"/><stop offset=".5183" stop-color="#b5b5b5"/><stop offset=".5267" stop-color="#848484"/><stop offset=".5308" stop-color="#6f6f6f"/><stop offset=".5333" stop-color="#646464"/><stop offset=".5367" stop-color="#575757"/><stop offset=".5392" stop-color="#4f4f4f"/><stop offset=".5425" stop-color="#464646"/><stop offset=".5458" stop-color="#3e3e3e"/><stop offset=".55" stop-color="#363636"/><stop offset=".5542" stop-color="#2f2f2f"/><stop offset=".5592" stop-color="#292929"/><stop offset=".57" stop-color="#1f1f1f"/><stop offset=".5833" stop-color="#181818"/><stop offset=".5992" stop-color="#131313"/><stop offset=".6192" stop-color="#101010"/><stop offset=".645" stop-color="#0d0d0d"/><stop offset=".68" stop-color="#0b0b0b"/><stop offset=".7867" stop-color="#090909"/><stop offset="1" stop-color="#080808"/></linearGradient><linearGradient id="hd6" x1="0" y1="0" x2="0" y2="1"><stop offset="0" stop-color="#080808"/><stop offset=".2308" stop-color="#080808"/><stop offset=".3433" stop-color="#0a0a0a"/><stop offset=".4058" stop-color="#0c0c0c"/><stop offset=".4267" stop-color="#0f0f0f"/><stop offset=".4425" stop-color="#121212"/><stop offset=".4558" stop-color="#161616"/><stop offset=".4667" stop-color="#1d1d1d"/><stop offset=".4758" stop-color="#252525"/><stop offset=".4833" stop-color="#2f2f2f"/><stop offset=".4892" stop-color="#3b3b3b"/><stop offset=".495" stop-color="#4b4b4b"/><stop offset=".4992" stop-color="#595959"/><stop offset=".5067" stop-color="#777777"/><stop offset=".51" stop-color="#828282"/><stop offset=".5133" stop-color="#8a8a8a"/><stop offset=".5158" stop-color="#8c8c8c"/><stop offset=".5183" stop-color="#8a8a8a"/><stop offset=".5208" stop-color="#848484"/><stop offset=".5233" stop-color="#7a7a7a"/><stop offset=".5308" stop-color="#575757"/><stop offset=".5342" stop-color="#4a4a4a"/><stop offset=".5392" stop-color="#3a3a3a"/><stop offset=".545" stop-color="#2d2d2d"/><stop offset=".5517" stop-color="#232323"/><stop offset=".5592" stop-color="#1c1c1c"/><stop offset=".5692" stop-color="#161616"/><stop offset=".5808" stop-color="#111111"/><stop offset=".595" stop-color="#0e0e0e"/><stop offset=".6142" stop-color="#0c0c0c"/><stop offset=".6717" stop-color="#090909"/><stop offset="1" stop-color="#080808"/></linearGradient><linearGradient id="hd7" x1="0" y1="0" x2="0" y2="1"><stop offset="0" stop-color="#080808"/><stop offset=".3558" stop-color="#080808"/><stop offset=".4175" stop-color="#090909"/><stop offset=".4525" stop-color="#0b0b0b"/><stop offset=".4758" stop-color="#0e0e0e"/><stop offset=".4908" stop-color="#131313"/><stop offset=".4967" stop-color="#171717"/><stop offset=".5017" stop-color="#1c1c1c"/><stop offset=".5158" stop-color="#2f2f2f"/><stop offset=".5183" stop-color="#313131"/><stop offset=".5208" stop-color="#323232"/><stop offset=".525" stop-color="#2f2f2f"/><stop offset=".5342" stop-color="#202020"/><stop offset=".5383" stop-color="#1a1a1a"/><stop offset=".5458" stop-color="#141414"/><stop offset=".5517" stop-color="#101010"/><stop offset=".5592" stop-color="#0e0e0e"/><stop offset=".58" stop-color="#0a0a0a"/><stop offset=".6117" stop-color="#090909"/><stop offset=".6675" stop-color="#080808"/><stop offset="1" stop-color="#080808"/></linearGradient><linearGradient id="hd8" x1="0" y1="0" x2="0" y2="1"><stop offset="0" stop-color="#080808"/><stop offset="1" stop-color="#080808"/></linearGradient><linearGradient id="hd9" x1="0" y1="0" x2="0" y2="1"><stop offset="0" stop-color="#080808"/><stop offset=".3558" stop-color="#080808"/><stop offset=".4175" stop-color="#090909"/><stop offset=".4525" stop-color="#0b0b0b"/><stop offset=".4758" stop-color="#0e0e0e"/><stop offset=".4908" stop-color="#131313"/><stop offset=".4967" stop-color="#171717"/><stop offset=".5017" stop-color="#1c1c1c"/><stop offset=".5158" stop-color="#2f2f2f"/><stop offset=".5183" stop-color="#313131"/><stop offset=".5208" stop-color="#323232"/><stop offset=".525" stop-color="#2f2f2f"/><stop offset=".5342" stop-color="#202020"/><stop offset=".5383" stop-color="#1a1a1a"/><stop offset=".5458" stop-color="#141414"/><stop offset=".5517" stop-color="#101010"/><stop offset=".5592" stop-color="#0e0e0e"/><stop offset=".58" stop-color="#0a0a0a"/><stop offset=".6117" stop-color="#090909"/><stop offset=".6675" stop-color="#080808"/><stop offset="1" stop-color="#080808"/></linearGradient><linearGradient id="hd10" x1="0" y1="0" x2="0" y2="1"><stop offset="0" stop-color="#080808"/><stop offset=".2308" stop-color="#080808"/><stop offset=".3433" stop-color="#0a0a0a"/><stop offset=".4058" stop-color="#0c0c0c"/><stop offset=".4267" stop-color="#0f0f0f"/><stop offset=".4425" stop-color="#121212"/><stop offset=".4558" stop-color="#161616"/><stop offset=".4667" stop-color="#1d1d1d"/><stop offset=".4758" stop-color="#252525"/><stop offset=".4833" stop-color="#2f2f2f"/><stop offset=".4892" stop-color="#3b3b3b"/><stop offset=".495" stop-color="#4b4b4b"/><stop offset=".4992" stop-color="#595959"/><stop offset=".5067" stop-color="#777777"/><stop offset=".51" stop-color="#828282"/><stop offset=".5133" stop-color="#8a8a8a"/><stop offset=".5158" stop-color="#8c8c8c"/><stop offset=".5183" stop-color="#8a8a8a"/><stop offset=".5208" stop-color="#848484"/><stop offset=".5233" stop-color="#7a7a7a"/><stop offset=".5308" stop-color="#575757"/><stop offset=".5342" stop-color="#4a4a4a"/><stop offset=".5392" stop-color="#3a3a3a"/><stop offset=".545" stop-color="#2d2d2d"/><stop offset=".5517" stop-color="#232323"/><stop offset=".5592" stop-color="#1c1c1c"/><stop offset=".5692" stop-color="#161616"/><stop offset=".5808" stop-color="#111111"/><stop offset=".595" stop-color="#0e0e0e"/><stop offset=".6142" stop-color="#0c0c0c"/><stop offset=".6717" stop-color="#090909"/><stop offset="1" stop-color="#080808"/></linearGradient><linearGradient id="hd11" x1="0" y1="0" x2="0" y2="1"><stop offset="0" stop-color="#080808"/><stop offset=".2133" stop-color="#090909"/><stop offset=".3233" stop-color="#0c0c0c"/><stop offset=".3592" stop-color="#0e0e0e"/><stop offset=".3867" stop-color="#101010"/><stop offset=".4083" stop-color="#141414"/><stop offset=".4258" stop-color="#1a1a1a"/><stop offset=".44" stop-color="#212121"/><stop offset=".4517" stop-color="#2a2a2a"/><stop offset=".4567" stop-color="#303030"/><stop offset=".4617" stop-color="#373737"/><stop offset=".4658" stop-color="#3e3e3e"/><stop offset=".47" stop-color="#464646"/><stop offset=".4733" stop-color="#4e4e4e"/><stop offset=".4767" stop-color="#575757"/><stop offset=".48" stop-color="#626262"/><stop offset=".4833" stop-color="#6e6e6e"/><stop offset=".4892" stop-color="#888888"/><stop offset=".4992" stop-color="#bababa"/><stop offset=".5025" stop-color="#c7c7c7"/><stop offset=".5042" stop-color="#cdcdcd"/><stop offset=".5058" stop-color="#d1d1d1"/><stop offset=".5075" stop-color="#d3d3d3"/><stop offset=".5092" stop-color="#d4d4d4"/><stop offset=".5117" stop-color="#d1d1d1"/><stop offset=".5133" stop-color="#cccccc"/><stop offset=".515" stop-color="#c6c6c6"/><stop offset=".5183" stop-color="#b5b5b5"/><stop offset=".5267" stop-color="#848484"/><stop offset=".5308" stop-color="#6f6f6f"/><stop offset=".5333" stop-color="#646464"/><stop offset=".5367" stop-color="#575757"/><stop offset=".5392" stop-color="#4f4f4f"/><stop offset=".5425" stop-color="#464646"/><stop offset=".5458" stop-color="#3e3e3e"/><stop offset=".55" stop-color="#363636"/><stop offset=".5542" stop-color="#2f2f2f"/><stop offset=".5592" stop-color="#292929"/><stop offset=".57" stop-color="#1f1f1f"/><stop offset=".5833" stop-color="#181818"/><stop offset=".5992" stop-color="#131313"/><stop offset=".6192" stop-color="#101010"/><stop offset=".645" stop-color="#0d0d0d"/><stop offset=".68" stop-color="#0b0b0b"/><stop offset=".7867" stop-color="#090909"/><stop offset="1" stop-color="#080808"/></linearGradient><linearGradient id="hd12" x1="0" y1="0" x2="0" y2="1"><stop offset="0" stop-color="#090909"/><stop offset=".1933" stop-color="#0a0a0a"/><stop offset=".3" stop-color="#0e0e0e"/><stop offset=".3367" stop-color="#111111"/><stop offset=".365" stop-color="#141414"/><stop offset=".3875" stop-color="#1a1a1a"/><stop offset=".4058" stop-color="#202020"/><stop offset=".4208" stop-color="#292929"/><stop offset=".4333" stop-color="#353535"/><stop offset=".4392" stop-color="#3c3c3c"/><stop offset=".4442" stop-color="#434343"/><stop offset=".4492" stop-color="#4b4b4b"/><stop offset=".4533" stop-color="#545454"/><stop offset=".4575" stop-color="#5e5e5e"/><stop offset=".4617" stop-color="#6a6a6a"/><stop offset=".4658" stop-color="#777777"/><stop offset=".4692" stop-color="#838383"/><stop offset=".4758" stop-color="#9f9f9f"/><stop offset=".4867" stop-color="#d0d0d0"/><stop offset=".4908" stop-color="#e1e1e1"/><stop offset=".4933" stop-color="#e9e9e9"/><stop offset=".4958" stop-color="#efefef"/><stop offset=".4983" stop-color="#f2f2f2"/><stop offset=".5" stop-color="#f2f2f2"/><stop offset=".5017" stop-color="#f1f1f1"/><stop offset=".5033" stop-color="#efefef"/><stop offset=".505" stop-color="#ebebeb"/><stop offset=".5075" stop-color="#e2e2e2"/><stop offset=".5108" stop-color="#d3d3d3"/><stop offset=".5208" stop-color="#9d9d9d"/><stop offset=".5267" stop-color="#818181"/><stop offset=".53" stop-color="#737373"/><stop offset=".5333" stop-color="#676767"/><stop offset=".5367" stop-color="#5c5c5c"/><stop offset=".5408" stop-color="#515151"/><stop offset=".545" stop-color="#484848"/><stop offset=".5492" stop-color="#404040"/><stop offset=".5542" stop-color="#383838"/><stop offset=".5592" stop-color="#323232"/><stop offset=".5708" stop-color="#272727"/><stop offset=".5858" stop-color="#1e1e1e"/><stop offset=".6033" stop-color="#171717"/><stop offset=".625" stop-color="#131313"/><stop offset=".6525" stop-color="#0f0f0f"/><stop offset=".6883" stop-color="#0d0d0d"/><stop offset=".7958" stop-color="#0a0a0a"/><stop offset="1" stop-color="#080808"/></linearGradient><linearGradient id="hd13" x1="0" y1="0" x2="0" y2="1"><stop offset="0" stop-color="#090909"/><stop offset=".1717" stop-color="#0b0b0b"/><stop offset=".2733" stop-color="#101010"/><stop offset=".3092" stop-color="#131313"/><stop offset=".3375" stop-color="#171717"/><stop offset=".3608" stop-color="#1d1d1d"/><stop offset=".3808" stop-color="#252525"/><stop offset=".3967" stop-color="#2e2e2e"/><stop offset=".41" stop-color="#393939"/><stop offset=".4217" stop-color="#474747"/><stop offset=".4275" stop-color="#4f4f4f"/><stop offset=".4325" stop-color="#585858"/><stop offset=".4417" stop-color="#6c6c6c"/><stop offset=".4467" stop-color="#797979"/><stop offset=".4508" stop-color="#858585"/><stop offset=".4583" stop-color="#9e9e9e"/><stop offset=".4725" stop-color="#d1d1d1"/><stop offset=".4775" stop-color="#e1e1e1"/><stop offset=".4808" stop-color="#e9e9e9"/><stop offset=".4833" stop-color="#eeeeee"/><stop offset=".4867" stop-color="#f1f1f1"/><stop offset=".4892" stop-color="#f2f2f2"/><stop offset=".4908" stop-color="#f1f1f1"/><stop offset=".4933" stop-color="#eeeeee"/><stop offset=".4958" stop-color="#e9e9e9"/><stop offset=".4983" stop-color="#e1e1e1"/><stop offset=".5025" stop-color="#d2d2d2"/><stop offset=".515" stop-color="#9d9d9d"/><stop offset=".5217" stop-color="#838383"/><stop offset=".5258" stop-color="#757575"/><stop offset=".53" stop-color="#696969"/><stop offset=".5342" stop-color="#5e5e5e"/><stop offset=".5383" stop-color="#555555"/><stop offset=".5433" stop-color="#4b4b4b"/><stop offset=".5483" stop-color="#434343"/><stop offset=".5592" stop-color="#353535"/><stop offset=".5725" stop-color="#2a2a2a"/><stop offset=".5883" stop-color="#212121"/><stop offset=".6075" stop-color="#1a1a1a"/><stop offset=".6308" stop-color="#151515"/><stop offset=".66" stop-color="#111111"/><stop offset=".6975" stop-color="#0e0e0e"/><stop offset=".8058" stop-color="#0a0a0a"/><stop offset="1" stop-color="#090909"/></linearGradient><linearGradient id="hd14" x1="0" y1="0" x2="0" y2="1"><stop offset="0" stop-color="#0a0a0a"/><stop offset=".1508" stop-color="#0d0d0d"/><stop offset=".2458" stop-color="#121212"/><stop offset=".2808" stop-color="#161616"/><stop offset=".31" stop-color="#1a1a1a"/><stop offset=".3342" stop-color="#212121"/><stop offset=".3542" stop-color="#282828"/><stop offset=".3708" stop-color="#313131"/><stop offset=".385" stop-color="#3c3c3c"/><stop offset=".3975" stop-color="#484848"/><stop offset=".4092" stop-color="#585858"/><stop offset=".4192" stop-color="#696969"/><stop offset=".4292" stop-color="#7e7e7e"/><stop offset=".4383" stop-color="#959595"/><stop offset=".455" stop-color="#c2c2c2"/><stop offset=".4617" stop-color="#d2d2d2"/><stop offset=".4658" stop-color="#d9d9d9"/><stop offset=".4692" stop-color="#dedede"/><stop offset=".4725" stop-color="#e0e0e0"/><stop offset=".4758" stop-color="#e1e1e1"/><stop offset=".4783" stop-color="#e0e0e0"/><stop offset=".4817" stop-color="#dddddd"/><stop offset=".4842" stop-color="#d9d9d9"/><stop offset=".4875" stop-color="#d2d2d2"/><stop offset=".4933" stop-color="#c2c2c2"/><stop offset=".5083" stop-color="#929292"/><stop offset=".5167" stop-color="#7b7b7b"/><stop offset=".5258" stop-color="#656565"/><stop offset=".535" stop-color="#535353"/><stop offset=".5408" stop-color="#4a4a4a"/><stop offset=".5467" stop-color="#434343"/><stop offset=".5592" stop-color="#363636"/><stop offset=".5742" stop-color="#2b2b2b"/><stop offset=".5908" stop-color="#232323"/><stop offset=".6117" stop-color="#1c1c1c"/><stop offset=".6367" stop-color="#161616"/><stop offset=".6675" stop-color="#121212"/><stop offset=".7058" stop-color="#0f0f0f"/><stop offset=".815" stop-color="#0b0b0b"/><stop offset="1" stop-color="#090909"/></linearGradient><linearGradient id="hd15" x1="0" y1="0" x2="0" y2="1"><stop offset="0" stop-color="#0b0b0b"/><stop offset=".1308" stop-color="#0f0f0f"/><stop offset=".2183" stop-color="#141414"/><stop offset=".2517" stop-color="#181818"/><stop offset=".28" stop-color="#1d1d1d"/><stop offset=".3042" stop-color="#232323"/><stop offset=".325" stop-color="#2a2a2a"/><stop offset=".3417" stop-color="#323232"/><stop offset=".3567" stop-color="#3c3c3c"/><stop offset=".37" stop-color="#474747"/><stop offset=".3825" stop-color="#545454"/><stop offset=".3942" stop-color="#646464"/><stop offset=".405" stop-color="#757575"/><stop offset=".415" stop-color="#888888"/><stop offset=".4342" stop-color="#aeaeae"/><stop offset=".4425" stop-color="#bcbcbc"/><stop offset=".4475" stop-color="#c3c3c3"/><stop offset=".4517" stop-color="#c7c7c7"/><stop offset=".4567" stop-color="#cbcbcb"/><stop offset=".4608" stop-color="#cbcbcb"/><stop offset=".4642" stop-color="#cbcbcb"/><stop offset=".4683" stop-color="#c8c8c8"/><stop offset=".4717" stop-color="#c4c4c4"/><stop offset=".4758" stop-color="#bdbdbd"/><stop offset=".4825" stop-color="#b0b0b0"/><stop offset=".5008" stop-color="#858585"/><stop offset=".51" stop-color="#727272"/><stop offset=".5208" stop-color="#5e5e5e"/><stop offset=".5317" stop-color="#4f4f4f"/><stop offset=".5442" stop-color="#414141"/><stop offset=".5583" stop-color="#353535"/><stop offset=".5742" stop-color="#2b2b2b"/><stop offset=".5925" stop-color="#232323"/><stop offset=".615" stop-color="#1d1d1d"/><stop offset=".6417" stop-color="#171717"/><stop offset=".6742" stop-color="#131313"/><stop offset=".7142" stop-color="#101010"/><stop offset=".8233" stop-color="#0c0c0c"/><stop offset="1" stop-color="#0a0a0a"/></linearGradient><linearGradient id="hd16" x1="0" y1="0" x2="0" y2="1"><stop offset="0" stop-color="#0d0d0d"/><stop offset=".1117" stop-color="#101010"/><stop offset=".1908" stop-color="#161616"/><stop offset=".2217" stop-color="#1a1a1a"/><stop offset=".2492" stop-color="#1f1f1f"/><stop offset=".2733" stop-color="#252525"/><stop offset=".2942" stop-color="#2c2c2c"/><stop offset=".3108" stop-color="#333333"/><stop offset=".3258" stop-color="#3b3b3b"/><stop offset=".3392" stop-color="#444444"/><stop offset=".3525" stop-color="#4f4f4f"/><stop offset=".365" stop-color="#5c5c5c"/><stop offset=".3775" stop-color="#6b6b6b"/><stop offset=".3892" stop-color="#7b7b7b"/><stop offset=".4117" stop-color="#9b9b9b"/><stop offset=".4217" stop-color="#a8a8a8"/><stop offset=".4275" stop-color="#aeaeae"/><stop offset=".4333" stop-color="#b2b2b2"/><stop offset=".4392" stop-color="#b5b5b5"/><stop offset=".4442" stop-color="#b6b6b6"/><stop offset=".4483" stop-color="#b5b5b5"/><stop offset=".4533" stop-color="#b2b2b2"/><stop offset=".4575" stop-color="#aeaeae"/><stop offset=".4625" stop-color="#a9a9a9"/><stop offset=".4717" stop-color="#9b9b9b"/><stop offset=".4917" stop-color="#797979"/><stop offset=".5025" stop-color="#686868"/><stop offset=".515" stop-color="#575757"/><stop offset=".5275" stop-color="#4a4a4a"/><stop offset=".5417" stop-color="#3d3d3d"/><stop offset=".5575" stop-color="#333333"/><stop offset=".575" stop-color="#2a2a2a"/><stop offset=".5942" stop-color="#232323"/><stop offset=".6183" stop-color="#1d1d1d"/><stop offset=".6475" stop-color="#181818"/><stop offset=".6808" stop-color="#141414"/><stop offset=".7217" stop-color="#111111"/><stop offset=".8308" stop-color="#0c0c0c"/><stop offset="1" stop-color="#0a0a0a"/></linearGradient>
<linearGradient id="ca" x1="0" y1="0" x2="0" y2="1"><stop offset="0" stop-color="#f5f196"/><stop offset=".043" stop-color="#f1ea73"/><stop offset=".087" stop-color="#f3df57"/><stop offset=".13" stop-color="#f6cc3f"/><stop offset=".174" stop-color="#f8b62a"/><stop offset=".217" stop-color="#f7a01a"/><stop offset=".261" stop-color="#f48c1b"/><stop offset=".304" stop-color="#f07825"/><stop offset=".348" stop-color="#e96631"/><stop offset=".391" stop-color="#e0573a"/><stop offset=".435" stop-color="#d34a46"/><stop offset=".478" stop-color="#c54051"/><stop offset=".522" stop-color="#b4385a"/><stop offset=".565" stop-color="#a23163"/><stop offset=".609" stop-color="#8f2c69"/><stop offset=".652" stop-color="#7e2a6e"/><stop offset=".696" stop-color="#6c2871"/><stop offset=".739" stop-color="#592870"/><stop offset=".783" stop-color="#47266d"/><stop offset=".826" stop-color="#352163"/><stop offset=".87" stop-color="#251b4f"/><stop offset=".913" stop-color="#1a1435"/><stop offset=".957" stop-color="#13101c"/><stop offset="1" stop-color="#020204"/></linearGradient>
<linearGradient id="cd" x1="0" y1="0" x2="0" y2="1"><stop offset="0" stop-color="#fae528"/><stop offset=".043" stop-color="#dfe21b"/><stop offset=".087" stop-color="#c2de24"/><stop offset=".13" stop-color="#a5da37"/><stop offset=".174" stop-color="#89d449"/><stop offset=".217" stop-color="#6ecd59"/><stop offset=".261" stop-color="#56c668"/><stop offset=".304" stop-color="#40bd73"/><stop offset=".348" stop-color="#2eb37e"/><stop offset=".391" stop-color="#22a985"/><stop offset=".435" stop-color="#1d9f89"/><stop offset=".478" stop-color="#1e958d"/><stop offset=".522" stop-color="#218a8e"/><stop offset=".565" stop-color="#26808f"/><stop offset=".609" stop-color="#2a768f"/><stop offset=".652" stop-color="#2e6c8f"/><stop offset=".696" stop-color="#34608d"/><stop offset=".739" stop-color="#3a558c"/><stop offset=".783" stop-color="#3f4989"/><stop offset=".826" stop-color="#443d84"/><stop offset=".87" stop-color="#47317d"/><stop offset=".913" stop-color="#482772"/><stop offset=".957" stop-color="#462064"/><stop offset="1" stop-color="#431b58"/></linearGradient></defs><rect width="1997" height="1169" fill="#fff"/><g filter="url(#inf)"><rect x="103.5" y="68.2" width="28.5" height="442.1" fill="url(#ha0)"/><rect x="103.5" y="68.2" width="28.5" height="442.1" fill="url(#ha1)" mask="url(#hm)"/><rect x="132" y="68.2" width="29" height="442.1" fill="url(#ha1)"/><rect x="132" y="68.2" width="29" height="442.1" fill="url(#ha2)" mask="url(#hm)"/><rect x="161" y="68.2" width="28" height="442.1" fill="url(#ha2)"/><rect x="161" y="68.2" width="28" height="442.1" fill="url(#ha3)" mask="url(#hm)"/><rect x="189" y="68.2" width="29" height="442.1" fill="url(#ha3)"/><rect x="189" y="68.2" width="29" height="442.1" fill="url(#ha4)" mask="url(#hm)"/><rect x="218" y="68.2" width="29" height="442.1" fill="url(#ha4)"/><rect x="218" y="68.2" width="29" height="442.1" fill="url(#ha5)" mask="url(#hm)"/><rect x="247" y="68.2" width="28" height="442.1" fill="url(#ha5)"/><rect x="247" y="68.2" width="28" height="442.1" fill="url(#ha6)" mask="url(#hm)"/><rect x="275" y="68.2" width="29" height="442.1" fill="url(#ha6)"/><rect x="275" y="68.2" width="29" height="442.1" fill="url(#ha7)" mask="url(#hm)"/><rect x="304" y="68.2" width="29" height="442.1" fill="url(#ha7)"/><rect x="304" y="68.2" width="29" height="442.1" fill="url(#ha8)" mask="url(#hm)"/><rect x="333" y="68.2" width="28" height="442.1" fill="url(#ha8)"/><rect x="333" y="68.2" width="28" height="442.1" fill="url(#ha9)" mask="url(#hm)"/><rect x="361" y="68.2" width="29" height="442.1" fill="url(#ha9)"/><rect x="361" y="68.2" width="29" height="442.1" fill="url(#ha10)" mask="url(#hm)"/><rect x="390" y="68.2" width="29" height="442.1" fill="url(#ha10)"/><rect x="390" y="68.2" width="29" height="442.1" fill="url(#ha11)" mask="url(#hm)"/><rect x="419" y="68.2" width="28" height="442.1" fill="url(#ha11)"/><rect x="419" y="68.2" width="28" height="442.1" fill="url(#ha12)" mask="url(#hm)"/><rect x="447" y="68.2" width="29" height="442.1" fill="url(#ha12)"/><rect x="447" y="68.2" width="29" height="442.1" fill="url(#ha13)" mask="url(#hm)"/><rect x="476" y="68.2" width="29" height="442.1" fill="url(#ha13)"/><rect x="476" y="68.2" width="29" height="442.1" fill="url(#ha14)" mask="url(#hm)"/><rect x="505" y="68.2" width="28" height="442.1" fill="url(#ha14)"/><rect x="505" y="68.2" width="28" height="442.1" fill="url(#ha15)" mask="url(#hm)"/><rect x="533" y="68.2" width="29" height="442.1" fill="url(#ha15)"/><rect x="533" y="68.2" width="29" height="442.1" fill="url(#ha16)" mask="url(#hm)"/></g>
<g filter="url(#inf)"><rect x="782.6" y="68.2" width="28.4" height="442.1" fill="url(#hb0)"/><rect x="782.6" y="68.2" width="28.4" height="442.1" fill="url(#hb1)" mask="url(#hm)"/><rect x="811" y="68.2" width="29" height="442.1" fill="url(#hb1)"/><rect x="811" y="68.2" width="29" height="442.1" fill="url(#hb2)" mask="url(#hm)"/><rect x="840" y="68.2" width="29" height="442.1" fill="url(#hb2)"/><rect x="840" y="68.2" width="29" height="442.1" fill="url(#hb3)" mask="url(#hm)"/><rect x="869" y="68.2" width="28" height="442.1" fill="url(#hb3)"/><rect x="869" y="68.2" width="28" height="442.1" fill="url(#hb4)" mask="url(#hm)"/><rect x="897" y="68.2" width="29" height="442.1" fill="url(#hb4)"/><rect x="897" y="68.2" width="29" height="442.1" fill="url(#hb5)" mask="url(#hm)"/><rect x="926" y="68.2" width="28" height="442.1" fill="url(#hb5)"/><rect x="926" y="68.2" width="28" height="442.1" fill="url(#hb6)" mask="url(#hm)"/><rect x="954" y="68.2" width="29" height="442.1" fill="url(#hb6)"/><rect x="954" y="68.2" width="29" height="442.1" fill="url(#hb7)" mask="url(#hm)"/><rect x="983" y="68.2" width="29" height="442.1" fill="url(#hb7)"/><rect x="983" y="68.2" width="29" height="442.1" fill="url(#hb8)" mask="url(#hm)"/><rect x="1012" y="68.2" width="28" height="442.1" fill="url(#hb8)"/><rect x="1012" y="68.2" width="28" height="442.1" fill="url(#hb9)" mask="url(#hm)"/><rect x="1040" y="68.2" width="29" height="442.1" fill="url(#hb9)"/><rect x="1040" y="68.2" width="29" height="442.1" fill="url(#hb10)" mask="url(#hm)"/><rect x="1069" y="68.2" width="29" height="442.1" fill="url(#hb10)"/><rect x="1069" y="68.2" width="29" height="442.1" fill="url(#hb11)" mask="url(#hm)"/><rect x="1098" y="68.2" width="28" height="442.1" fill="url(#hb11)"/><rect x="1098" y="68.2" width="28" height="442.1" fill="url(#hb12)" mask="url(#hm)"/><rect x="1126" y="68.2" width="29" height="442.1" fill="url(#hb12)"/><rect x="1126" y="68.2" width="29" height="442.1" fill="url(#hb13)" mask="url(#hm)"/><rect x="1155" y="68.2" width="29" height="442.1" fill="url(#hb13)"/><rect x="1155" y="68.2" width="29" height="442.1" fill="url(#hb14)" mask="url(#hm)"/><rect x="1184" y="68.2" width="28" height="442.1" fill="url(#hb14)"/><rect x="1184" y="68.2" width="28" height="442.1" fill="url(#hb15)" mask="url(#hm)"/><rect x="1212" y="68.2" width="28.8" height="442.1" fill="url(#hb15)"/><rect x="1212" y="68.2" width="28.8" height="442.1" fill="url(#hb16)" mask="url(#hm)"/></g>
<g filter="url(#inf)"><rect x="1442.2" y="68.2" width="28.8" height="442.1" fill="url(#hc0)"/><rect x="1442.2" y="68.2" width="28.8" height="442.1" fill="url(#hc1)" mask="url(#hm)"/><rect x="1471" y="68.2" width="29" height="442.1" fill="url(#hc1)"/><rect x="1471" y="68.2" width="29" height="442.1" fill="url(#hc2)" mask="url(#hm)"/><rect x="1500" y="68.2" width="28" height="442.1" fill="url(#hc2)"/><rect x="1500" y="68.2" width="28" height="442.1" fill="url(#hc3)" mask="url(#hm)"/><rect x="1528" y="68.2" width="29" height="442.1" fill="url(#hc3)"/><rect x="1528" y="68.2" width="29" height="442.1" fill="url(#hc4)" mask="url(#hm)"/><rect x="1557" y="68.2" width="29" height="442.1" fill="url(#hc4)"/><rect x="1557" y="68.2" width="29" height="442.1" fill="url(#hc5)" mask="url(#hm)"/><rect x="1586" y="68.2" width="28" height="442.1" fill="url(#hc5)"/><rect x="1586" y="68.2" width="28" height="442.1" fill="url(#hc6)" mask="url(#hm)"/><rect x="1614" y="68.2" width="29" height="442.1" fill="url(#hc6)"/><rect x="1614" y="68.2" width="29" height="442.1" fill="url(#hc7)" mask="url(#hm)"/><rect x="1643" y="68.2" width="29" height="442.1" fill="url(#hc7)"/><rect x="1643" y="68.2" width="29" height="442.1" fill="url(#hc8)" mask="url(#hm)"/><rect x="1672" y="68.2" width="28" height="442.1" fill="url(#hc8)"/><rect x="1672" y="68.2" width="28" height="442.1" fill="url(#hc9)" mask="url(#hm)"/><rect x="1700" y="68.2" width="29" height="442.1" fill="url(#hc9)"/><rect x="1700" y="68.2" width="29" height="442.1" fill="url(#hc10)" mask="url(#hm)"/><rect x="1729" y="68.2" width="28" height="442.1" fill="url(#hc10)"/><rect x="1729" y="68.2" width="28" height="442.1" fill="url(#hc11)" mask="url(#hm)"/><rect x="1757" y="68.2" width="29" height="442.1" fill="url(#hc11)"/><rect x="1757" y="68.2" width="29" height="442.1" fill="url(#hc12)" mask="url(#hm)"/><rect x="1786" y="68.2" width="29" height="442.1" fill="url(#hc12)"/><rect x="1786" y="68.2" width="29" height="442.1" fill="url(#hc13)" mask="url(#hm)"/><rect x="1815" y="68.2" width="28" height="442.1" fill="url(#hc13)"/><rect x="1815" y="68.2" width="28" height="442.1" fill="url(#hc14)" mask="url(#hm)"/><rect x="1843" y="68.2" width="29" height="442.1" fill="url(#hc14)"/><rect x="1843" y="68.2" width="29" height="442.1" fill="url(#hc15)" mask="url(#hm)"/><rect x="1872" y="68.2" width="28.8" height="442.1" fill="url(#hc15)"/><rect x="1872" y="68.2" width="28.8" height="442.1" fill="url(#hc16)" mask="url(#hm)"/></g>
<g filter="url(#vir)"><rect x="103.4" y="642.2" width="28.6" height="441.9" fill="url(#hd0)"/><rect x="103.4" y="642.2" width="28.6" height="441.9" fill="url(#hd1)" mask="url(#hm)"/><rect x="132" y="642.2" width="29" height="441.9" fill="url(#hd1)"/><rect x="132" y="642.2" width="29" height="441.9" fill="url(#hd2)" mask="url(#hm)"/><rect x="161" y="642.2" width="28" height="441.9" fill="url(#hd2)"/><rect x="161" y="642.2" width="28" height="441.9" fill="url(#hd3)" mask="url(#hm)"/><rect x="189" y="642.2" width="29" height="441.9" fill="url(#hd3)"/><rect x="189" y="642.2" width="29" height="441.9" fill="url(#hd4)" mask="url(#hm)"/><rect x="218" y="642.2" width="29" height="441.9" fill="url(#hd4)"/><rect x="218" y="642.2" width="29" height="441.9" fill="url(#hd5)" mask="url(#hm)"/><rect x="247" y="642.2" width="28" height="441.9" fill="url(#hd5)"/><rect x="247" y="642.2" width="28" height="441.9" fill="url(#hd6)" mask="url(#hm)"/><rect x="275" y="642.2" width="29" height="441.9" fill="url(#hd6)"/><rect x="275" y="642.2" width="29" height="441.9" fill="url(#hd7)" mask="url(#hm)"/><rect x="304" y="642.2" width="29" height="441.9" fill="url(#hd7)"/><rect x="304" y="642.2" width="29" height="441.9" fill="url(#hd8)" mask="url(#hm)"/><rect x="333" y="642.2" width="28" height="441.9" fill="url(#hd8)"/><rect x="333" y="642.2" width="28" height="441.9" fill="url(#hd9)" mask="url(#hm)"/><rect x="361" y="642.2" width="29" height="441.9" fill="url(#hd9)"/><rect x="361" y="642.2" width="29" height="441.9" fill="url(#hd10)" mask="url(#hm)"/><rect x="390" y="642.2" width="29" height="441.9" fill="url(#hd10)"/><rect x="390" y="642.2" width="29" height="441.9" fill="url(#hd11)" mask="url(#hm)"/><rect x="419" y="642.2" width="28" height="441.9" fill="url(#hd11)"/><rect x="419" y="642.2" width="28" height="441.9" fill="url(#hd12)" mask="url(#hm)"/><rect x="447" y="642.2" width="29" height="441.9" fill="url(#hd12)"/><rect x="447" y="642.2" width="29" height="441.9" fill="url(#hd13)" mask="url(#hm)"/><rect x="476" y="642.2" width="29" height="441.9" fill="url(#hd13)"/><rect x="476" y="642.2" width="29" height="441.9" fill="url(#hd14)" mask="url(#hm)"/><rect x="505" y="642.2" width="28" height="441.9" fill="url(#hd14)"/><rect x="505" y="642.2" width="28" height="441.9" fill="url(#hd15)" mask="url(#hm)"/><rect x="533" y="642.2" width="28.9" height="441.9" fill="url(#hd15)"/><rect x="533" y="642.2" width="28.9" height="441.9" fill="url(#hd16)" mask="url(#hm)"/></g>
<rect x="576.1" y="68.2" width="18.6" height="442.1" fill="url(#ca)"/>
<rect x="1255.1" y="68.2" width="18.7" height="442.1" fill="url(#ca)"/>
<rect x="1914.9" y="68.2" width="18.5" height="442.1" fill="url(#ca)"/>
<rect x="576.4" y="642.2" width="18.6" height="441.9" fill="url(#cd)"/>
<text x=".2" y="36.3" class="b">(a)</text>
<text x="685.7" y="36.3" class="b">(b)</text>
<text x="1352" y="36.3" class="b">(c)</text>
<text x=".2" y="610.5" class="b">(d)</text>
<text x="685.7" y="610.5" class="b">(e)</text>
<text x="1352" y="610.5" class="b">(f)</text>
<text transform="translate(90.7 77.8) scale(1.02 1.045)" text-anchor="end">715</text>
<text transform="translate(90.7 188.3) scale(1.02 1.045)" text-anchor="end">710</text>
<text transform="translate(90.7 298.8) scale(1.02 1.045)" text-anchor="end">705</text>
<text transform="translate(90.7 409.4) scale(1.02 1.045)" text-anchor="end">700</text>
<text transform="translate(90.7 519.9) scale(1.02 1.045)" text-anchor="end">695</text>
<text transform="translate(103.5 547.2) scale(1.02 1.045)" text-anchor="middle">-40</text>
<text transform="translate(218.1 547.2) scale(1.02 1.045)" text-anchor="middle">-20</text>
<text transform="translate(332.8 547.2) scale(1.02 1.045)" text-anchor="middle">0</text>
<text transform="translate(447.4 547.2) scale(1.02 1.045)" text-anchor="middle">20</text>
<text transform="translate(562 547.2) scale(1.02 1.045)" text-anchor="middle">40</text>
<text transform="translate(332.8 588.5) scale(1.02 1.045)" text-anchor="middle"><tspan class="i">d</tspan> (nm)</text>
<text transform="translate(23.8 290.2) rotate(-90) scale(1.02 1.045)" text-anchor="middle">wavelength (nm)</text>
<text transform="translate(604.9 78.9) scale(1.02 1.045)">1.0</text>
<text transform="translate(604.9 167.3) scale(1.02 1.045)">0.8</text>
<text transform="translate(604.9 255.7) scale(1.02 1.045)">0.6</text>
<text transform="translate(604.9 344.2) scale(1.02 1.045)">0.4</text>
<text transform="translate(604.9 432.6) scale(1.02 1.045)">0.2</text>
<text transform="translate(604.9 521) scale(1.02 1.045)">0.0</text>
<text transform="translate(672.5 49.4) scale(1.02 1.045)" text-anchor="end">Transmission</text>
<text transform="translate(769.8 77.8) scale(1.02 1.045)" text-anchor="end">715</text>
<text transform="translate(769.8 188.3) scale(1.02 1.045)" text-anchor="end">710</text>
<text transform="translate(769.8 298.8) scale(1.02 1.045)" text-anchor="end">705</text>
<text transform="translate(769.8 409.4) scale(1.02 1.045)" text-anchor="end">700</text>
<text transform="translate(769.8 519.9) scale(1.02 1.045)" text-anchor="end">695</text>
<text transform="translate(782.6 547.2) scale(1.02 1.045)" text-anchor="middle">-40</text>
<text transform="translate(897.1 547.2) scale(1.02 1.045)" text-anchor="middle">-20</text>
<text transform="translate(1011.7 547.2) scale(1.02 1.045)" text-anchor="middle">0</text>
<text transform="translate(1126.2 547.2) scale(1.02 1.045)" text-anchor="middle">20</text>
<text transform="translate(1240.8 547.2) scale(1.02 1.045)" text-anchor="middle">40</text>
<text transform="translate(1011.7 588.5) scale(1.02 1.045)" text-anchor="middle"><tspan class="i">d</tspan> (nm)</text>
<text transform="translate(702.9 290.2) rotate(-90) scale(1.02 1.045)" text-anchor="middle">wavelength (nm)</text>
<text transform="translate(1284 78.9) scale(1.02 1.045)">1</text>
<text transform="translate(1284 167.3) scale(1.02 1.045)">0.8</text>
<text transform="translate(1284 255.7) scale(1.02 1.045)">0.6</text>
<text transform="translate(1284 344.2) scale(1.02 1.045)">0.4</text>
<text transform="translate(1284 432.6) scale(1.02 1.045)">0.2</text>
<text transform="translate(1284 521) scale(1.02 1.045)">0</text>
<text transform="translate(1332.3 49.4) scale(1.02 1.045)" text-anchor="end">Reflection</text>
<text transform="translate(1429.4 77.8) scale(1.02 1.045)" text-anchor="end">715</text>
<text transform="translate(1429.4 188.3) scale(1.02 1.045)" text-anchor="end">710</text>
<text transform="translate(1429.4 298.8) scale(1.02 1.045)" text-anchor="end">705</text>
<text transform="translate(1429.4 409.4) scale(1.02 1.045)" text-anchor="end">700</text>
<text transform="translate(1429.4 519.9) scale(1.02 1.045)" text-anchor="end">695</text>
<text transform="translate(1442.2 547.2) scale(1.02 1.045)" text-anchor="middle">-40</text>
<text transform="translate(1556.8 547.2) scale(1.02 1.045)" text-anchor="middle">-20</text>
<text transform="translate(1671.5 547.2) scale(1.02 1.045)" text-anchor="middle">0</text>
<text transform="translate(1786.2 547.2) scale(1.02 1.045)" text-anchor="middle">20</text>
<text transform="translate(1900.8 547.2) scale(1.02 1.045)" text-anchor="middle">40</text>
<text transform="translate(1671.5 588.5) scale(1.02 1.045)" text-anchor="middle"><tspan class="i">d</tspan> (nm)</text>
<text transform="translate(1362.5 290.2) rotate(-90) scale(1.02 1.045)" text-anchor="middle">wavelength (nm)</text>
<text transform="translate(1943.6 78.9) scale(1.02 1.045)">1</text>
<text transform="translate(1943.6 167.3) scale(1.02 1.045)">0.8</text>
<text transform="translate(1943.6 255.7) scale(1.02 1.045)">0.6</text>
<text transform="translate(1943.6 344.2) scale(1.02 1.045)">0.4</text>
<text transform="translate(1943.6 432.6) scale(1.02 1.045)">0.2</text>
<text transform="translate(1943.6 521) scale(1.02 1.045)">0</text>
<text transform="translate(1996.5 49.4) scale(1.02 1.045)" text-anchor="end">Absorption</text>
<text transform="translate(90.6 651.8) scale(1.02 1.045)" text-anchor="end">715</text>
<text transform="translate(90.6 762.3) scale(1.02 1.045)" text-anchor="end">710</text>
<text transform="translate(90.6 872.8) scale(1.02 1.045)" text-anchor="end">705</text>
<text transform="translate(90.6 983.2) scale(1.02 1.045)" text-anchor="end">700</text>
<text transform="translate(90.6 1093.7) scale(1.02 1.045)" text-anchor="end">695</text>
<text transform="translate(103.4 1121) scale(1.02 1.045)" text-anchor="middle">-40</text>
<text transform="translate(218 1121) scale(1.02 1.045)" text-anchor="middle">-20</text>
<text transform="translate(332.6 1121) scale(1.02 1.045)" text-anchor="middle">0</text>
<text transform="translate(447.3 1121) scale(1.02 1.045)" text-anchor="middle">20</text>
<text transform="translate(561.9 1121) scale(1.02 1.045)" text-anchor="middle">40</text>
<text transform="translate(332.6 1162.3) scale(1.02 1.045)" text-anchor="middle"><tspan class="i">d</tspan> (nm)</text>
<text transform="translate(23.7 864.1) rotate(-90) scale(1.02 1.045)" text-anchor="middle">wavelength (nm)</text>
<text transform="translate(603.9 653.6) scale(1.02 1.045)">100</text>
<text transform="translate(603.9 742) scale(1.02 1.045)">80</text>
<text transform="translate(603.9 830.4) scale(1.02 1.045)">60</text>
<text transform="translate(603.9 918.7) scale(1.02 1.045)">40</text>
<text transform="translate(603.9 1007.1) scale(1.02 1.045)">20</text>
<text transform="translate(603.9 1095.5) scale(1.02 1.045)">0</text>
<text transform="translate(614 623.4) scale(1.02 1.045)" text-anchor="end">PLE</text>
<rect x="803.4" y="701.8" width="16.4" height="16.4" fill="#535353"/><rect x="831.9" y="763" width="16.4" height="16.4" fill="#535353"/><rect x="860.4" y="816.7" width="16.4" height="16.4" fill="#535353"/><rect x="888.9" y="860.9" width="16.4" height="16.4" fill="#535353"/><rect x="917.4" y="897.6" width="16.4" height="16.4" fill="#535353"/><rect x="945.9" y="926.5" width="16.4" height="16.4" fill="#535353"/><rect x="974.4" y="945.9" width="16.4" height="16.4" fill="#535353"/><rect x="1002.9" y="955.1" width="16.4" height="16.4" fill="#535353"/><rect x="1032.3" y="959.8" width="14.5" height="14.5" fill="none" stroke="#535353" stroke-width="1.8"/><rect x="1059.9" y="955.1" width="16.4" height="16.4" fill="#535353"/><rect x="1088.4" y="945.9" width="16.4" height="16.4" fill="#535353"/><rect x="1116.9" y="926.5" width="16.4" height="16.4" fill="#535353"/><rect x="1145.4" y="897.6" width="16.4" height="16.4" fill="#535353"/><rect x="1173.9" y="860.9" width="16.4" height="16.4" fill="#535353"/><rect x="1202.4" y="816.7" width="16.4" height="16.4" fill="#535353"/><rect x="1230.9" y="763" width="16.4" height="16.4" fill="#535353"/><rect x="1259.4" y="701.8" width="16.4" height="16.4" fill="#535353"/><circle cx="811.6" cy="788.2" r="9.4" fill="#ee3f41"/><circle cx="840.1" cy="849.6" r="9.4" fill="#ee3f41"/><circle cx="868.6" cy="902.7" r="9.4" fill="#ee3f41"/><circle cx="897.1" cy="947.7" r="9.4" fill="#ee3f41"/><circle cx="925.6" cy="984.5" r="9.4" fill="#ee3f41"/><circle cx="954.1" cy="1013.2" r="9.4" fill="#ee3f41"/><circle cx="982.6" cy="1033.6" r="9.4" fill="#ee3f41"/><circle cx="1011.1" cy="1045.9" r="9.4" fill="#ee3f41"/><circle cx="1039.6" cy="1050" r="7.6" fill="none" stroke="#ee3f41" stroke-width="1.8"/><circle cx="1068.1" cy="1045.9" r="9.4" fill="#ee3f41"/><circle cx="1096.6" cy="1033.6" r="9.4" fill="#ee3f41"/><circle cx="1125.1" cy="1013.2" r="9.4" fill="#ee3f41"/><circle cx="1153.6" cy="984.5" r="9.4" fill="#ee3f41"/><circle cx="1182.1" cy="947.7" r="9.4" fill="#ee3f41"/><circle cx="1210.6" cy="902.7" r="9.4" fill="#ee3f41"/><circle cx="1239.1" cy="849.6" r="9.4" fill="#ee3f41"/><circle cx="1267.6" cy="788.2" r="9.4" fill="#ee3f41"/><polygon points="811.6 960.5 800.4 979.7 822.8 979.7" fill="#3a6db9"/><polygon points="840.1 960.1 828.9 979.3 851.3 979.3" fill="#3a6db9"/><polygon points="868.6 959.8 857.4 979 879.8 979" fill="#3a6db9"/><polygon points="897.1 959.5 885.9 978.7 908.3 978.7" fill="#3a6db9"/><polygon points="925.6 959.2 914.4 978.4 936.8 978.4" fill="#3a6db9"/><polygon points="954.1 958.8 942.9 978 965.3 978" fill="#3a6db9"/><polygon points="982.6 957.7 971.4 976.9 993.8 976.9" fill="#3a6db9"/><polygon points="1011.1 955.8 999.9 975 1022.3 975" fill="#3a6db9"/><polygon points="1039.6 955.2 1029.1 973.2 1050.1 973.2" fill="none" stroke="#3a6db9" stroke-width="1.8"/><polygon points="1068.1 955.8 1056.9 975 1079.3 975" fill="#3a6db9"/><polygon points="1096.6 957.7 1085.4 976.9 1107.8 976.9" fill="#3a6db9"/><polygon points="1125.1 958.8 1113.9 978 1136.3 978" fill="#3a6db9"/><polygon points="1153.6 959.2 1142.4 978.4 1164.8 978.4" fill="#3a6db9"/><polygon points="1182.1 959.5 1170.9 978.7 1193.3 978.7" fill="#3a6db9"/><polygon points="1210.6 959.8 1199.4 979 1221.8 979" fill="#3a6db9"/><polygon points="1239.1 960.1 1227.9 979.3 1250.3 979.3" fill="#3a6db9"/><polygon points="1267.6 960.5 1256.4 979.7 1278.8 979.7" fill="#3a6db9"/><path d="M811.6 710 L817.3 722.7 L823 735.2 L828.7 747.4 L834.4 759.5 L840.1 771.2 L845.8 782.6 L851.5 793.8 L857.2 804.5 L862.9 814.9 L868.6 824.9 L874.3 834.5 L880 843.7 L885.7 852.5 L891.4 860.9 L897.1 869.1 L902.8 877 L908.5 884.7 L914.2 892 L919.9 899.1 L925.6 905.8 L931.3 912.3 L937 918.5 L942.7 924.3 L948.4 929.7 L954.1 934.7 L959.8 939.4 L965.5 943.6 L971.2 947.5 L976.9 951 L982.6 954.1 L988.3 956.9 L994 959.4 L999.7 961.6 L1005.4 963.5 L1011.1 965 L1016.8 966.2 L1022.5 967.2 L1028.2 967.9 L1033.9 968.3 L1039.6 968.4 L1045.3 968.3 L1051 967.9 L1056.7 967.2 L1062.4 966.2 L1068.1 965 L1073.8 963.5 L1079.5 961.6 L1085.2 959.4 L1090.9 956.9 L1096.6 954.1 L1102.3 951 L1108 947.5 L1113.7 943.6 L1119.4 939.4 L1125.1 934.7 L1130.8 929.7 L1136.5 924.3 L1142.2 918.5 L1147.9 912.3 L1153.6 905.8 L1159.3 899.1 L1165 892 L1170.7 884.7 L1176.4 877 L1182.1 869.1 L1187.8 860.9 L1193.5 852.5 L1199.2 843.7 L1204.9 834.5 L1210.6 824.9 L1216.3 814.9 L1222 804.5 L1227.7 793.8 L1233.4 782.6 L1239.1 771.2 L1244.8 759.5 L1250.5 747.4 L1256.2 735.2 L1261.9 722.7 L1267.6 710" fill="none" stroke="#535353" stroke-width="3"/><path d="M811.6 788.2 L817.3 801.1 L823 813.7 L828.7 826 L834.4 837.9 L840.1 849.6 L845.8 860.8 L851.5 871.8 L857.2 882.4 L862.9 892.8 L868.6 902.7 L874.3 912.4 L880 921.7 L885.7 930.7 L891.4 939.4 L897.1 947.7 L902.8 955.8 L908.5 963.4 L914.2 970.8 L919.9 977.8 L925.6 984.5 L931.3 990.9 L937 997 L942.7 1002.7 L948.4 1008.1 L954.1 1013.2 L959.8 1017.9 L965.5 1022.3 L971.2 1026.4 L976.9 1030.2 L982.6 1033.6 L988.3 1036.7 L994 1039.5 L999.7 1042 L1005.4 1044.1 L1011.1 1045.9 L1016.8 1047.4 L1022.5 1048.5 L1028.2 1049.3 L1033.9 1049.8 L1039.6 1050 L1045.3 1049.8 L1051 1049.3 L1056.7 1048.5 L1062.4 1047.4 L1068.1 1045.9 L1073.8 1044.1 L1079.5 1042 L1085.2 1039.5 L1090.9 1036.7 L1096.6 1033.6 L1102.3 1030.2 L1108 1026.4 L1113.7 1022.3 L1119.4 1017.9 L1125.1 1013.2 L1130.8 1008.1 L1136.5 1002.7 L1142.2 997 L1147.9 990.9 L1153.6 984.5 L1159.3 977.8 L1165 970.8 L1170.7 963.4 L1176.4 955.8 L1182.1 947.7 L1187.8 939.4 L1193.5 930.7 L1199.2 921.7 L1204.9 912.4 L1210.6 902.7 L1216.3 892.8 L1222 882.4 L1227.7 871.8 L1233.4 860.8 L1239.1 849.6 L1244.8 837.9 L1250.5 826 L1256.2 813.7 L1261.9 801.1 L1267.6 788.2" fill="none" stroke="#ee3f41" stroke-width="3"/><path d="M800.2 972.5 L811.6 972.3 L823 972.1 L834.4 972 L845.8 971.8 L857.2 971.7 L868.6 971.6 L880 971.4 L891.4 971.3 L902.8 971.2 L914.2 971.1 L925.6 971 L937 971 L948.4 970.9 L959.8 970.8 L971.2 970.8 L982.6 970.7 L994 970.7 L1005.4 970.6 L1016.8 970.6 L1028.2 970.6 L1039.6 970.6 L1051 970.6 L1062.4 970.6 L1073.8 970.6 L1085.2 970.7 L1096.6 970.7 L1108 970.8 L1119.4 970.8 L1130.8 970.9 L1142.2 971 L1153.6 971 L1165 971.1 L1176.4 971.2 L1187.8 971.3 L1199.2 971.4 L1210.6 971.6 L1222 971.7 L1233.4 971.8 L1244.8 972 L1256.2 972.1 L1267.6 972.3 L1279 972.5" fill="none" stroke="#3a6db9" stroke-width="3.4"/><rect x="940" y="686.5" width="16.4" height="16.4" fill="#535353"/><circle cx="948.2" cy="746.3" r="9.4" fill="#ee3f41"/><polygon points="948.2 785 937 804.2 959.4 804.2" fill="#3a6db9"/><text transform="translate(993 705.5) scale(1.02 1.045)">Γ<tspan class="s" dy="7.8">tot</tspan></text><text transform="translate(993 757) scale(1.02 1.045)">Γ<tspan class="s" dy="7.8">rad,in</tspan></text><text transform="translate(993 808.8) scale(1.02 1.045)">Γ<tspan class="s" dy="7.8">abs</tspan></text><rect x="783.2" y="642" width="513.1" height="442.1" fill="none" stroke="#000" stroke-width="3.6"/><path d="M811.6 642v10.8 M811.6 1084.1v-10.8 M925.6 642v10.8 M925.6 1084.1v-10.8 M1039.6 642v10.8 M1039.6 1084.1v-10.8 M1153.6 642v10.8 M1153.6 1084.1v-10.8 M1267.6 642v10.8 M1267.6 1084.1v-10.8 M868.6 642v5.8 M868.6 1084.1v-5.8 M982.6 642v5.8 M982.6 1084.1v-5.8 M1096.6 642v5.8 M1096.6 1084.1v-5.8 M1210.6 642v5.8 M1210.6 1084.1v-5.8 M783.2 1050h10.8 M1296.3 1050h-10.8 M783.2 914h10.8 M1296.3 914h-10.8 M783.2 778h10.8 M1296.3 778h-10.8 M783.2 982h5.8 M1296.3 982h-5.8 M783.2 846h5.8 M1296.3 846h-5.8 M783.2 710h5.8 M1296.3 710h-5.8" fill="none" stroke="#000" stroke-width="3.4"/><text transform="translate(771.2 652.4) scale(1.02 1.045)" text-anchor="end">12</text><text transform="translate(771.2 788.4) scale(1.02 1.045)" text-anchor="end">8</text><text transform="translate(771.2 924.4) scale(1.02 1.045)" text-anchor="end">4</text><text transform="translate(771.2 1060.4) scale(1.02 1.045)" text-anchor="end">0</text><text transform="translate(811.6 1120.8) scale(1.02 1.045)" text-anchor="middle">-40</text><text transform="translate(925.6 1120.8) scale(1.02 1.045)" text-anchor="middle">-20</text><text transform="translate(1039.6 1120.8) scale(1.02 1.045)" text-anchor="middle">0</text><text transform="translate(1153.6 1120.8) scale(1.02 1.045)" text-anchor="middle">20</text><text transform="translate(1267.6 1120.8) scale(1.02 1.045)" text-anchor="middle">40</text><text transform="translate(1039.8 1161.4) scale(1.02 1.045)" text-anchor="middle"><tspan class="i">d</tspan> (nm)</text><text transform="translate(725.8 861.5) rotate(-90) scale(1.02 1.045)" text-anchor="middle">Decay Rate (ps<tspan class="s" dy="-13.5" style="font-size:22px">-1</tspan><tspan dy="13.5">)</tspan></text>
<path d="M1465.5 1062.8 L1471.3 1062.1 L1477.2 1059.9 L1483 1056.3 L1488.8 1051.4 L1494.7 1045.2 L1500.5 1037.7 L1506.3 1029 L1512.1 1019.4 L1518 1008.7 L1523.8 997.3 L1529.6 985.1 L1535.5 972.4 L1541.3 959.2 L1547.1 945.6 L1553 931.8 L1558.8 917.9 L1564.6 904.1 L1570.4 890.3 L1576.3 876.7 L1582.1 863.3 L1587.9 850.3 L1593.8 837.8 L1599.6 825.7 L1605.4 814.1 L1611.2 803.1 L1617.1 792.7 L1622.9 783 L1628.7 773.8 L1634.6 765.3 L1640.4 757.5 L1646.2 750.3 L1652.1 743.8 L1657.9 737.9 L1663.7 732.6 L1669.5 727.9 L1675.4 723.8 L1681.2 720.3 L1687 717.3 L1692.9 714.8 L1698.7 712.8 L1704.5 711.3 L1710.4 710.2 L1716.2 709.6 L1722 709.3 L1727.8 709.4 L1733.7 709.9 L1739.5 710.7 L1745.3 711.7 L1751.2 713.1 L1757 714.7 L1762.8 716.5 L1768.7 718.5 L1774.5 720.7 L1780.3 723.1 L1786.2 725.7 L1792 728.4 L1797.8 731.3 L1803.6 734.2 L1809.5 737.3 L1815.3 740.4 L1821.1 743.6 L1827 746.9 L1832.8 750.3 L1838.6 753.7 L1844.5 757.1 L1850.3 760.6 L1856.1 764.1 L1861.9 767.6 L1867.8 771.1 L1873.6 774.7 L1879.4 778.2 L1885.3 781.8 L1891.1 785.3 L1896.9 788.8 L1902.8 792.3 L1908.6 795.8 L1914.4 799.3 L1920.2 802.7 L1926.1 806.1 L1931.9 809.5" fill="none" stroke="#535353" stroke-width="3"/><rect x="1457.3" y="1054.6" width="16.4" height="16.4" fill="#535353"/><rect x="1515.6" y="985.2" width="16.4" height="16.4" fill="#535353"/><rect x="1573.9" y="835.8" width="16.4" height="16.4" fill="#535353"/><rect x="1632.2" y="718" width="16.4" height="16.4" fill="#535353"/><rect x="1690.5" y="667.5" width="16.4" height="16.4" fill="#535353"/><rect x="1702.2" y="664.5" width="16.4" height="16.4" fill="#535353"/><rect x="1713.8" y="663.3" width="16.4" height="16.4" fill="#535353"/><rect x="1725.5" y="663.7" width="16.4" height="16.4" fill="#535353"/><rect x="1737.1" y="665.4" width="16.4" height="16.4" fill="#535353"/><rect x="1748.8" y="668.3" width="16.4" height="16.4" fill="#535353"/><rect x="1807.1" y="695.7" width="16.4" height="16.4" fill="#535353"/><rect x="1865.4" y="731.4" width="16.4" height="16.4" fill="#535353"/><rect x="1923.7" y="767.6" width="16.4" height="16.4" fill="#535353"/><rect x="1709.2" y="902.8" width="16.4" height="16.4" fill="#535353"/><path d="M1680.5 951.8H1753.4" stroke="#535353" stroke-width="3.2" stroke-linecap="round"/><text transform="translate(1762 921.6) scale(1.02 1.045)">PLE (FDTD)</text><text transform="translate(1762 962.9) scale(1.02 1.045)">PLE (Model)</text><rect x="1442.2" y="642" width="513.2" height="442.1" fill="none" stroke="#000" stroke-width="3.6"/><path d="M1465.5 642v10.8 M1465.5 1084.1v-10.8 M1582.1 642v10.8 M1582.1 1084.1v-10.8 M1698.7 642v10.8 M1698.7 1084.1v-10.8 M1815.3 642v10.8 M1815.3 1084.1v-10.8 M1931.9 642v10.8 M1931.9 1084.1v-10.8 M1523.8 642v5.8 M1523.8 1084.1v-5.8 M1640.4 642v5.8 M1640.4 1084.1v-5.8 M1757 642v5.8 M1757 1084.1v-5.8 M1873.6 642v5.8 M1873.6 1084.1v-5.8 M1442.2 1062.8h10.8 M1955.4 1062.8h-10.8 M1442.2 978.6h10.8 M1955.4 978.6h-10.8 M1442.2 894.5h10.8 M1955.4 894.5h-10.8 M1442.2 810.3h10.8 M1955.4 810.3h-10.8 M1442.2 726.2h10.8 M1955.4 726.2h-10.8 M1442.2 1020.7h5.8 M1955.4 1020.7h-5.8 M1442.2 936.6h5.8 M1955.4 936.6h-5.8 M1442.2 852.4h5.8 M1955.4 852.4h-5.8 M1442.2 768.2h5.8 M1955.4 768.2h-5.8 M1442.2 684.1h5.8 M1955.4 684.1h-5.8" fill="none" stroke="#000" stroke-width="3.4"/><text transform="translate(1433.5 652.4) scale(1.02 1.045)" text-anchor="end">100</text><text transform="translate(1433.5 736.6) scale(1.02 1.045)" text-anchor="end">80</text><text transform="translate(1433.5 820.7) scale(1.02 1.045)" text-anchor="end">60</text><text transform="translate(1433.5 904.9) scale(1.02 1.045)" text-anchor="end">40</text><text transform="translate(1433.5 989) scale(1.02 1.045)" text-anchor="end">20</text><text transform="translate(1433.5 1073.2) scale(1.02 1.045)" text-anchor="end">0</text><text transform="translate(1465.5 1120.8) scale(1.02 1.045)" text-anchor="middle">0</text><text transform="translate(1582.1 1120.8) scale(1.02 1.045)" text-anchor="middle">10</text><text transform="translate(1698.7 1120.8) scale(1.02 1.045)" text-anchor="middle">20</text><text transform="translate(1815.3 1120.8) scale(1.02 1.045)" text-anchor="middle">30</text><text transform="translate(1931.9 1120.8) scale(1.02 1.045)" text-anchor="middle">40</text><text transform="translate(1698.8 1161.4) scale(1.02 1.045)" text-anchor="middle"><tspan class="i">d</tspan> (nm)</text><text transform="translate(1380 863) rotate(-90) scale(1.02 1.045)" text-anchor="middle">PLE</text></svg></body></html>
